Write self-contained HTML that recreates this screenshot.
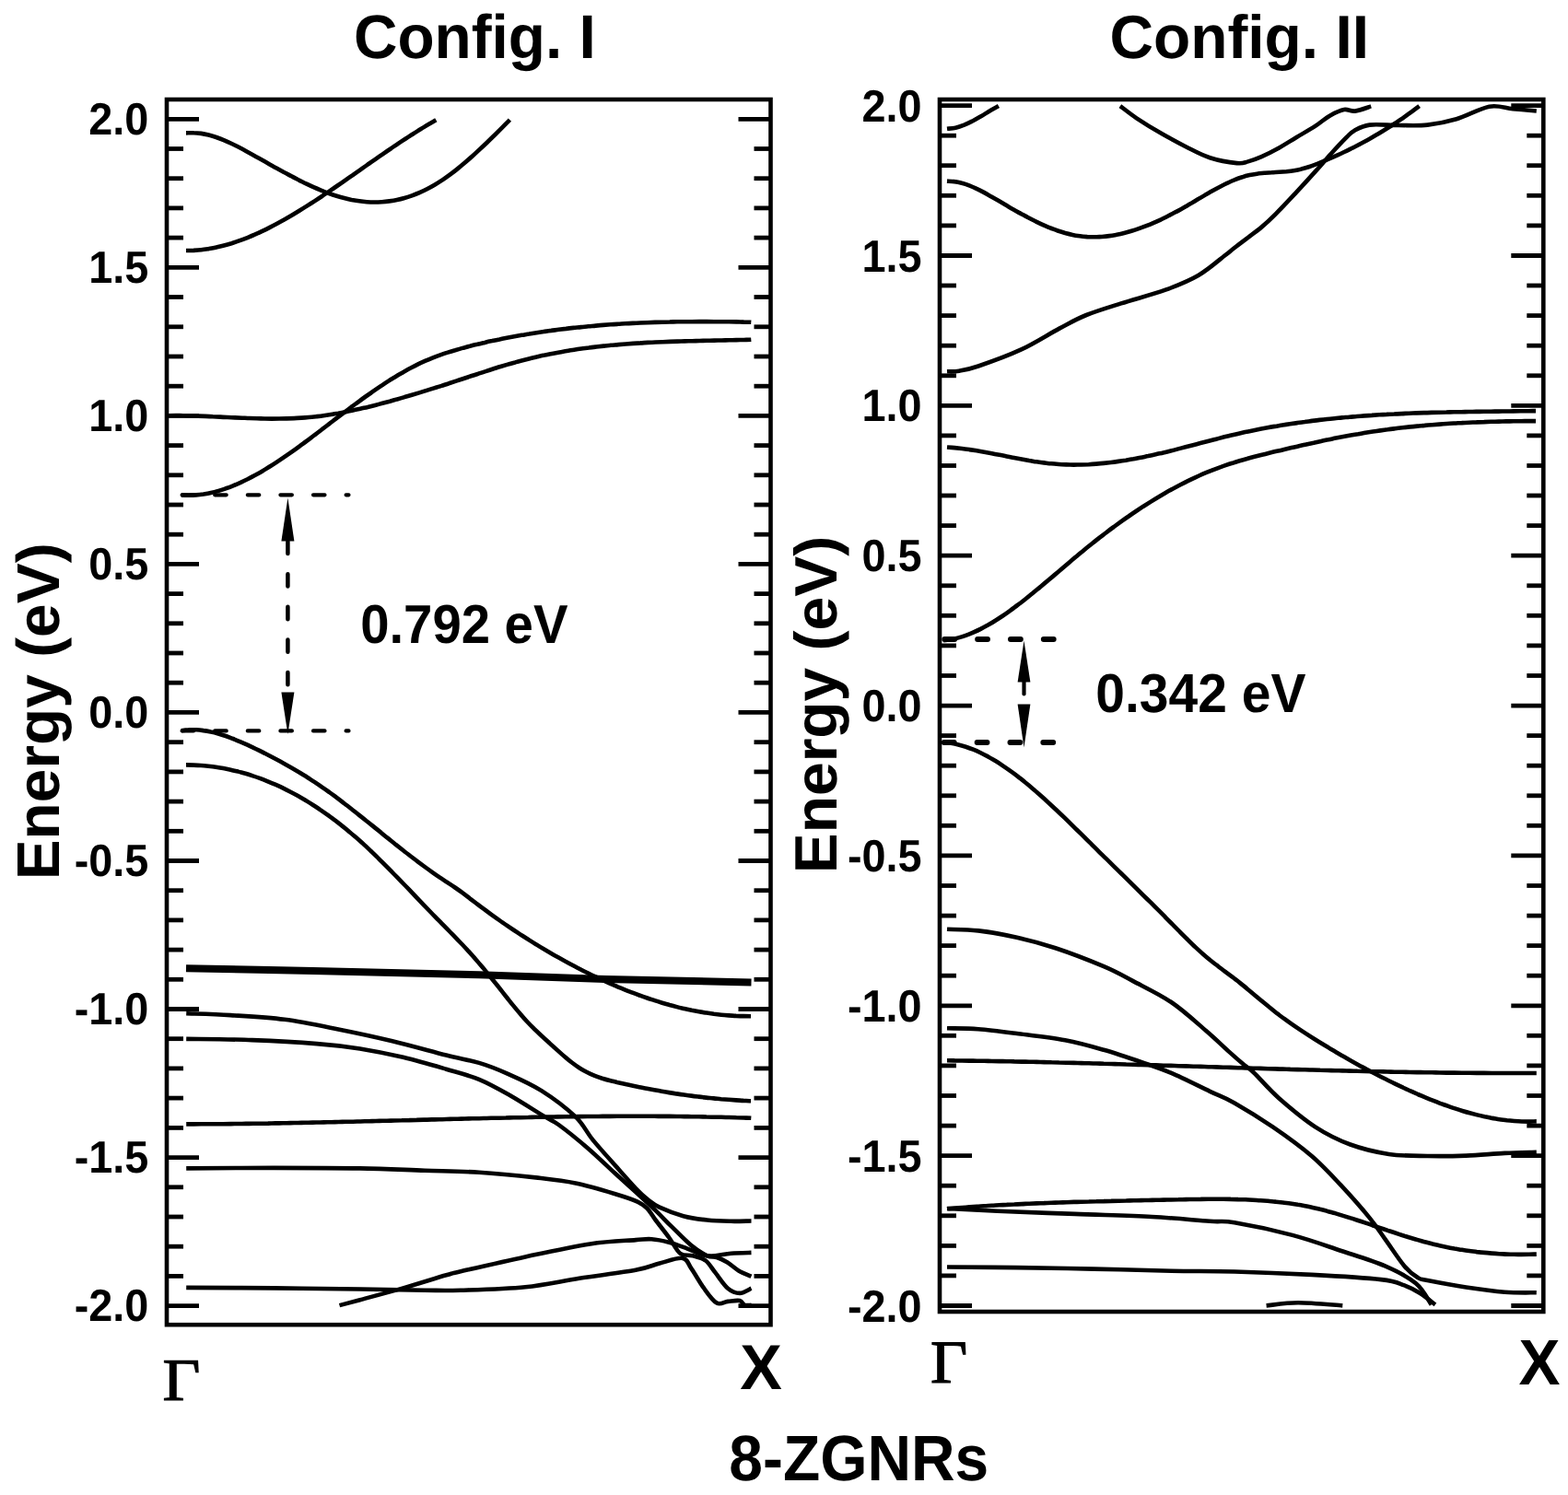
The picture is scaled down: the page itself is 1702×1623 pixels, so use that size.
<!DOCTYPE html>
<html><head><meta charset="utf-8"><title>8-ZGNRs band structure</title><style>
html,body{margin:0;padding:0;background:#fff;overflow:hidden;}
svg{display:block;}
text{fill:#000;text-rendering:geometricPrecision;}
</style></head><body>
<svg width="1702" height="1623" viewBox="0 0 1702 1623">
<rect width="1702" height="1623" fill="#fff"/>
<text transform="matrix(0.98047,0,0,1.00049,383.96,63.48)" style="font-family:'Liberation Sans',Arial,sans-serif;font-weight:bold;font-size:67px">Config. I</text>
<text transform="matrix(0.98262,0,0,0.99020,1204.41,62.97)" style="font-family:'Liberation Sans',Arial,sans-serif;font-weight:bold;font-size:67px">Config. II</text>
<text transform="matrix(0.98347,0,0,1.03965,791.32,1606.57)" style="font-family:'Liberation Sans',Arial,sans-serif;font-weight:bold;font-size:67px">8-ZGNRs</text>
<text transform="translate(64.49,955.31) rotate(-90) scale(0.98270,0.97657)" style="font-family:'Liberation Sans',Arial,sans-serif;font-weight:bold;font-size:67px">Energy (eV)</text>
<text transform="translate(908.07,948.21) rotate(-90) scale(0.98388,0.96954)" style="font-family:'Liberation Sans',Arial,sans-serif;font-weight:bold;font-size:67px">Energy (eV)</text>
<text transform="matrix(1.07013,0,0,0.98768,176.40,1520.46)" style="font-family:'Liberation Serif','Times New Roman',serif;font-weight:normal;font-size:66px" stroke="#000" stroke-width="1.2">Γ</text>
<text transform="matrix(1.04887,0,0,1.00235,1010.08,1501.14)" style="font-family:'Liberation Serif','Times New Roman',serif;font-weight:normal;font-size:66px" stroke="#000" stroke-width="1.2">Γ</text>
<text transform="matrix(1.02056,0,0,1.02862,803.23,1507.91)" style="font-family:'Liberation Sans',Arial,sans-serif;font-weight:bold;font-size:67px">X</text>
<text transform="matrix(1.00593,0,0,1.04211,1648.40,1502.65)" style="font-family:'Liberation Sans',Arial,sans-serif;font-weight:bold;font-size:67px">X</text>
<text transform="matrix(0.97023,0,0,1.02334,391.16,698.39)" style="font-family:'Liberation Sans',Arial,sans-serif;font-weight:bold;font-size:58px">0.792 eV</text>
<text transform="matrix(0.98264,0,0,1.02731,1189.23,772.55)" style="font-family:'Liberation Sans',Arial,sans-serif;font-weight:bold;font-size:58px">0.342 eV</text>

<text transform="matrix(0.97500,0,0,1.02124,161.35,145.94)" style="font-family:'Liberation Sans',Arial,sans-serif;font-weight:bold;font-size:48px;text-anchor:end">2.0</text>
<text transform="matrix(0.97500,0,0,1.02124,1000.55,131.64)" style="font-family:'Liberation Sans',Arial,sans-serif;font-weight:bold;font-size:48px;text-anchor:end">2.0</text>
<text transform="matrix(0.97500,0,0,1.02124,161.35,306.98)" style="font-family:'Liberation Sans',Arial,sans-serif;font-weight:bold;font-size:48px;text-anchor:end">1.5</text>
<text transform="matrix(0.97500,0,0,1.02124,1000.55,294.50)" style="font-family:'Liberation Sans',Arial,sans-serif;font-weight:bold;font-size:48px;text-anchor:end">1.5</text>
<text transform="matrix(0.97500,0,0,1.02124,161.35,468.01)" style="font-family:'Liberation Sans',Arial,sans-serif;font-weight:bold;font-size:48px;text-anchor:end">1.0</text>
<text transform="matrix(0.97500,0,0,1.02124,1000.55,457.36)" style="font-family:'Liberation Sans',Arial,sans-serif;font-weight:bold;font-size:48px;text-anchor:end">1.0</text>
<text transform="matrix(0.97500,0,0,1.02124,161.35,629.05)" style="font-family:'Liberation Sans',Arial,sans-serif;font-weight:bold;font-size:48px;text-anchor:end">0.5</text>
<text transform="matrix(0.97500,0,0,1.02124,1000.55,620.23)" style="font-family:'Liberation Sans',Arial,sans-serif;font-weight:bold;font-size:48px;text-anchor:end">0.5</text>
<text transform="matrix(0.97500,0,0,1.02124,161.35,790.09)" style="font-family:'Liberation Sans',Arial,sans-serif;font-weight:bold;font-size:48px;text-anchor:end">0.0</text>
<text transform="matrix(0.97500,0,0,1.02124,1000.55,783.09)" style="font-family:'Liberation Sans',Arial,sans-serif;font-weight:bold;font-size:48px;text-anchor:end">0.0</text>
<text transform="matrix(0.97500,0,0,1.02124,161.35,951.13)" style="font-family:'Liberation Sans',Arial,sans-serif;font-weight:bold;font-size:48px;text-anchor:end">-0.5</text>
<text transform="matrix(0.97500,0,0,1.02124,1000.55,945.95)" style="font-family:'Liberation Sans',Arial,sans-serif;font-weight:bold;font-size:48px;text-anchor:end">-0.5</text>
<text transform="matrix(0.97500,0,0,1.02124,161.35,1112.16)" style="font-family:'Liberation Sans',Arial,sans-serif;font-weight:bold;font-size:48px;text-anchor:end">-1.0</text>
<text transform="matrix(0.97500,0,0,1.02124,1000.55,1108.81)" style="font-family:'Liberation Sans',Arial,sans-serif;font-weight:bold;font-size:48px;text-anchor:end">-1.0</text>
<text transform="matrix(0.97500,0,0,1.02124,161.35,1273.20)" style="font-family:'Liberation Sans',Arial,sans-serif;font-weight:bold;font-size:48px;text-anchor:end">-1.5</text>
<text transform="matrix(0.97500,0,0,1.02124,1000.55,1271.68)" style="font-family:'Liberation Sans',Arial,sans-serif;font-weight:bold;font-size:48px;text-anchor:end">-1.5</text>
<text transform="matrix(0.97500,0,0,1.02124,161.35,1434.24)" style="font-family:'Liberation Sans',Arial,sans-serif;font-weight:bold;font-size:48px;text-anchor:end">-2.0</text>
<text transform="matrix(0.97500,0,0,1.02124,1000.55,1434.54)" style="font-family:'Liberation Sans',Arial,sans-serif;font-weight:bold;font-size:48px;text-anchor:end">-2.0</text>

<g fill="none" stroke="#000" stroke-width="4.6">
<rect x="181" y="108" width="655.5" height="1330.2"/>
<rect x="1020" y="108" width="655.3" height="1316"/>
</g>
<g stroke="#000" stroke-width="4.8">
<line x1="181" y1="129.3" x2="216" y2="129.3"/>
<line x1="181" y1="161.5" x2="199" y2="161.5"/>
<line x1="181" y1="193.7" x2="199" y2="193.7"/>
<line x1="181" y1="225.9" x2="199" y2="225.9"/>
<line x1="181" y1="258.1" x2="199" y2="258.1"/>
<line x1="181" y1="290.3" x2="216" y2="290.3"/>
<line x1="181" y1="322.5" x2="199" y2="322.5"/>
<line x1="181" y1="354.8" x2="199" y2="354.8"/>
<line x1="181" y1="387.0" x2="199" y2="387.0"/>
<line x1="181" y1="419.2" x2="199" y2="419.2"/>
<line x1="181" y1="451.4" x2="216" y2="451.4"/>
<line x1="181" y1="483.6" x2="199" y2="483.6"/>
<line x1="181" y1="515.8" x2="199" y2="515.8"/>
<line x1="181" y1="548.0" x2="199" y2="548.0"/>
<line x1="181" y1="580.2" x2="199" y2="580.2"/>
<line x1="181" y1="612.4" x2="216" y2="612.4"/>
<line x1="181" y1="644.6" x2="199" y2="644.6"/>
<line x1="181" y1="676.8" x2="199" y2="676.8"/>
<line x1="181" y1="709.0" x2="199" y2="709.0"/>
<line x1="181" y1="741.2" x2="199" y2="741.2"/>
<line x1="181" y1="773.4" x2="216" y2="773.4"/>
<line x1="181" y1="805.7" x2="199" y2="805.7"/>
<line x1="181" y1="837.9" x2="199" y2="837.9"/>
<line x1="181" y1="870.1" x2="199" y2="870.1"/>
<line x1="181" y1="902.3" x2="199" y2="902.3"/>
<line x1="181" y1="934.5" x2="216" y2="934.5"/>
<line x1="181" y1="966.7" x2="199" y2="966.7"/>
<line x1="181" y1="998.9" x2="199" y2="998.9"/>
<line x1="181" y1="1031.1" x2="199" y2="1031.1"/>
<line x1="181" y1="1063.3" x2="199" y2="1063.3"/>
<line x1="181" y1="1095.5" x2="216" y2="1095.5"/>
<line x1="181" y1="1127.7" x2="199" y2="1127.7"/>
<line x1="181" y1="1159.9" x2="199" y2="1159.9"/>
<line x1="181" y1="1192.1" x2="199" y2="1192.1"/>
<line x1="181" y1="1224.4" x2="199" y2="1224.4"/>
<line x1="181" y1="1256.6" x2="216" y2="1256.6"/>
<line x1="181" y1="1288.8" x2="199" y2="1288.8"/>
<line x1="181" y1="1321.0" x2="199" y2="1321.0"/>
<line x1="181" y1="1353.2" x2="199" y2="1353.2"/>
<line x1="181" y1="1385.4" x2="199" y2="1385.4"/>
<line x1="181" y1="1417.6" x2="216" y2="1417.6"/>
<line x1="836.5" y1="129.3" x2="801.5" y2="129.3"/>
<line x1="836.5" y1="161.5" x2="818.5" y2="161.5"/>
<line x1="836.5" y1="193.7" x2="818.5" y2="193.7"/>
<line x1="836.5" y1="225.9" x2="818.5" y2="225.9"/>
<line x1="836.5" y1="258.1" x2="818.5" y2="258.1"/>
<line x1="836.5" y1="290.3" x2="801.5" y2="290.3"/>
<line x1="836.5" y1="322.5" x2="818.5" y2="322.5"/>
<line x1="836.5" y1="354.8" x2="818.5" y2="354.8"/>
<line x1="836.5" y1="387.0" x2="818.5" y2="387.0"/>
<line x1="836.5" y1="419.2" x2="818.5" y2="419.2"/>
<line x1="836.5" y1="451.4" x2="801.5" y2="451.4"/>
<line x1="836.5" y1="483.6" x2="818.5" y2="483.6"/>
<line x1="836.5" y1="515.8" x2="818.5" y2="515.8"/>
<line x1="836.5" y1="548.0" x2="818.5" y2="548.0"/>
<line x1="836.5" y1="580.2" x2="818.5" y2="580.2"/>
<line x1="836.5" y1="612.4" x2="801.5" y2="612.4"/>
<line x1="836.5" y1="644.6" x2="818.5" y2="644.6"/>
<line x1="836.5" y1="676.8" x2="818.5" y2="676.8"/>
<line x1="836.5" y1="709.0" x2="818.5" y2="709.0"/>
<line x1="836.5" y1="741.2" x2="818.5" y2="741.2"/>
<line x1="836.5" y1="773.4" x2="801.5" y2="773.4"/>
<line x1="836.5" y1="805.7" x2="818.5" y2="805.7"/>
<line x1="836.5" y1="837.9" x2="818.5" y2="837.9"/>
<line x1="836.5" y1="870.1" x2="818.5" y2="870.1"/>
<line x1="836.5" y1="902.3" x2="818.5" y2="902.3"/>
<line x1="836.5" y1="934.5" x2="801.5" y2="934.5"/>
<line x1="836.5" y1="966.7" x2="818.5" y2="966.7"/>
<line x1="836.5" y1="998.9" x2="818.5" y2="998.9"/>
<line x1="836.5" y1="1031.1" x2="818.5" y2="1031.1"/>
<line x1="836.5" y1="1063.3" x2="818.5" y2="1063.3"/>
<line x1="836.5" y1="1095.5" x2="801.5" y2="1095.5"/>
<line x1="836.5" y1="1127.7" x2="818.5" y2="1127.7"/>
<line x1="836.5" y1="1159.9" x2="818.5" y2="1159.9"/>
<line x1="836.5" y1="1192.1" x2="818.5" y2="1192.1"/>
<line x1="836.5" y1="1224.4" x2="818.5" y2="1224.4"/>
<line x1="836.5" y1="1256.6" x2="801.5" y2="1256.6"/>
<line x1="836.5" y1="1288.8" x2="818.5" y2="1288.8"/>
<line x1="836.5" y1="1321.0" x2="818.5" y2="1321.0"/>
<line x1="836.5" y1="1353.2" x2="818.5" y2="1353.2"/>
<line x1="836.5" y1="1385.4" x2="818.5" y2="1385.4"/>
<line x1="836.5" y1="1417.6" x2="801.5" y2="1417.6"/>
<line x1="1020" y1="114.6" x2="1055" y2="114.6"/>
<line x1="1020" y1="147.2" x2="1038" y2="147.2"/>
<line x1="1020" y1="179.7" x2="1038" y2="179.7"/>
<line x1="1020" y1="212.3" x2="1038" y2="212.3"/>
<line x1="1020" y1="244.9" x2="1038" y2="244.9"/>
<line x1="1020" y1="277.5" x2="1055" y2="277.5"/>
<line x1="1020" y1="310.0" x2="1038" y2="310.0"/>
<line x1="1020" y1="342.6" x2="1038" y2="342.6"/>
<line x1="1020" y1="375.2" x2="1038" y2="375.2"/>
<line x1="1020" y1="407.8" x2="1038" y2="407.8"/>
<line x1="1020" y1="440.3" x2="1055" y2="440.3"/>
<line x1="1020" y1="472.9" x2="1038" y2="472.9"/>
<line x1="1020" y1="505.5" x2="1038" y2="505.5"/>
<line x1="1020" y1="538.0" x2="1038" y2="538.0"/>
<line x1="1020" y1="570.6" x2="1038" y2="570.6"/>
<line x1="1020" y1="603.2" x2="1055" y2="603.2"/>
<line x1="1020" y1="635.8" x2="1038" y2="635.8"/>
<line x1="1020" y1="668.3" x2="1038" y2="668.3"/>
<line x1="1020" y1="700.9" x2="1038" y2="700.9"/>
<line x1="1020" y1="733.5" x2="1038" y2="733.5"/>
<line x1="1020" y1="766.1" x2="1055" y2="766.1"/>
<line x1="1020" y1="798.6" x2="1038" y2="798.6"/>
<line x1="1020" y1="831.2" x2="1038" y2="831.2"/>
<line x1="1020" y1="863.8" x2="1038" y2="863.8"/>
<line x1="1020" y1="896.3" x2="1038" y2="896.3"/>
<line x1="1020" y1="928.9" x2="1055" y2="928.9"/>
<line x1="1020" y1="961.5" x2="1038" y2="961.5"/>
<line x1="1020" y1="994.1" x2="1038" y2="994.1"/>
<line x1="1020" y1="1026.6" x2="1038" y2="1026.6"/>
<line x1="1020" y1="1059.2" x2="1038" y2="1059.2"/>
<line x1="1020" y1="1091.8" x2="1055" y2="1091.8"/>
<line x1="1020" y1="1124.3" x2="1038" y2="1124.3"/>
<line x1="1020" y1="1156.9" x2="1038" y2="1156.9"/>
<line x1="1020" y1="1189.5" x2="1038" y2="1189.5"/>
<line x1="1020" y1="1222.1" x2="1038" y2="1222.1"/>
<line x1="1020" y1="1254.6" x2="1055" y2="1254.6"/>
<line x1="1020" y1="1287.2" x2="1038" y2="1287.2"/>
<line x1="1020" y1="1319.8" x2="1038" y2="1319.8"/>
<line x1="1020" y1="1352.4" x2="1038" y2="1352.4"/>
<line x1="1020" y1="1384.9" x2="1038" y2="1384.9"/>
<line x1="1020" y1="1417.5" x2="1055" y2="1417.5"/>
<line x1="1675.3" y1="114.6" x2="1640.3" y2="114.6"/>
<line x1="1675.3" y1="147.2" x2="1657.3" y2="147.2"/>
<line x1="1675.3" y1="179.7" x2="1657.3" y2="179.7"/>
<line x1="1675.3" y1="212.3" x2="1657.3" y2="212.3"/>
<line x1="1675.3" y1="244.9" x2="1657.3" y2="244.9"/>
<line x1="1675.3" y1="277.5" x2="1640.3" y2="277.5"/>
<line x1="1675.3" y1="310.0" x2="1657.3" y2="310.0"/>
<line x1="1675.3" y1="342.6" x2="1657.3" y2="342.6"/>
<line x1="1675.3" y1="375.2" x2="1657.3" y2="375.2"/>
<line x1="1675.3" y1="407.8" x2="1657.3" y2="407.8"/>
<line x1="1675.3" y1="440.3" x2="1640.3" y2="440.3"/>
<line x1="1675.3" y1="472.9" x2="1657.3" y2="472.9"/>
<line x1="1675.3" y1="505.5" x2="1657.3" y2="505.5"/>
<line x1="1675.3" y1="538.0" x2="1657.3" y2="538.0"/>
<line x1="1675.3" y1="570.6" x2="1657.3" y2="570.6"/>
<line x1="1675.3" y1="603.2" x2="1640.3" y2="603.2"/>
<line x1="1675.3" y1="635.8" x2="1657.3" y2="635.8"/>
<line x1="1675.3" y1="668.3" x2="1657.3" y2="668.3"/>
<line x1="1675.3" y1="700.9" x2="1657.3" y2="700.9"/>
<line x1="1675.3" y1="733.5" x2="1657.3" y2="733.5"/>
<line x1="1675.3" y1="766.1" x2="1640.3" y2="766.1"/>
<line x1="1675.3" y1="798.6" x2="1657.3" y2="798.6"/>
<line x1="1675.3" y1="831.2" x2="1657.3" y2="831.2"/>
<line x1="1675.3" y1="863.8" x2="1657.3" y2="863.8"/>
<line x1="1675.3" y1="896.3" x2="1657.3" y2="896.3"/>
<line x1="1675.3" y1="928.9" x2="1640.3" y2="928.9"/>
<line x1="1675.3" y1="961.5" x2="1657.3" y2="961.5"/>
<line x1="1675.3" y1="994.1" x2="1657.3" y2="994.1"/>
<line x1="1675.3" y1="1026.6" x2="1657.3" y2="1026.6"/>
<line x1="1675.3" y1="1059.2" x2="1657.3" y2="1059.2"/>
<line x1="1675.3" y1="1091.8" x2="1640.3" y2="1091.8"/>
<line x1="1675.3" y1="1124.3" x2="1657.3" y2="1124.3"/>
<line x1="1675.3" y1="1156.9" x2="1657.3" y2="1156.9"/>
<line x1="1675.3" y1="1189.5" x2="1657.3" y2="1189.5"/>
<line x1="1675.3" y1="1222.1" x2="1657.3" y2="1222.1"/>
<line x1="1675.3" y1="1254.6" x2="1640.3" y2="1254.6"/>
<line x1="1675.3" y1="1287.2" x2="1657.3" y2="1287.2"/>
<line x1="1675.3" y1="1319.8" x2="1657.3" y2="1319.8"/>
<line x1="1675.3" y1="1352.4" x2="1657.3" y2="1352.4"/>
<line x1="1675.3" y1="1384.9" x2="1657.3" y2="1384.9"/>
<line x1="1675.3" y1="1417.5" x2="1640.3" y2="1417.5"/>
</g>
<g fill="none" stroke="#000" stroke-linejoin="round">
<path d="M202.0,144.4 C203.4,144.4 207.4,144.1 210.2,144.2 C212.9,144.2 215.6,144.5 218.3,144.9 C221.1,145.3 223.8,145.9 226.5,146.6 C229.2,147.3 232.0,148.1 234.7,149.0 C237.4,150.0 240.1,151.0 242.9,152.1 C245.6,153.3 248.3,154.5 251.0,155.8 C253.8,157.1 256.5,158.4 259.2,159.8 C261.9,161.2 264.7,162.7 267.4,164.2 C270.1,165.7 272.8,167.2 275.5,168.7 C278.3,170.2 281.0,171.8 283.7,173.3 C286.4,174.8 289.2,176.4 291.9,177.9 C294.6,179.4 297.3,181.0 300.1,182.5 C302.8,184.0 305.5,185.5 308.2,187.0 C311.0,188.4 313.7,189.9 316.4,191.3 C319.1,192.8 321.9,194.2 324.6,195.6 C327.3,196.9 330.0,198.3 332.8,199.6 C335.5,200.9 338.2,202.2 340.9,203.4 C343.6,204.6 346.4,205.7 349.1,206.8 C351.8,207.9 354.5,209.0 357.3,210.0 C360.0,211.0 362.7,211.9 365.4,212.7 C368.2,213.6 370.9,214.4 373.6,215.1 C376.3,215.8 379.1,216.4 381.8,217.0 C384.5,217.5 387.2,218.0 390.0,218.3 C392.7,218.7 395.4,219.0 398.1,219.2 C400.9,219.4 403.6,219.5 406.3,219.5 C409.0,219.5 411.8,219.4 414.5,219.2 C417.2,219.1 419.9,218.8 422.6,218.4 C425.4,218.0 428.1,217.6 430.8,217.0 C433.5,216.5 436.3,215.8 439.0,215.0 C441.7,214.3 444.4,213.4 447.2,212.4 C449.9,211.4 452.6,210.4 455.3,209.2 C458.1,208.0 460.8,206.7 463.5,205.3 C466.2,203.9 469.0,202.4 471.7,200.8 C474.4,199.2 477.1,197.4 479.9,195.6 C482.6,193.8 485.3,191.9 488.0,189.9 C490.7,187.9 493.5,185.8 496.2,183.6 C498.9,181.4 501.6,179.2 504.4,176.8 C507.1,174.5 509.8,172.1 512.5,169.7 C515.3,167.3 518.0,164.8 520.7,162.2 C523.4,159.7 526.2,157.1 528.9,154.5 C531.6,151.8 534.3,149.2 537.1,146.5 C539.8,143.8 542.5,141.1 545.2,138.4 C548.0,135.6 552.0,131.5 553.4,130.1" stroke-width="4.6"/>
<path d="M202.0,272.0 C203.4,272.0 207.5,272.0 210.2,271.9 C213.0,271.7 215.7,271.5 218.4,271.2 C221.2,270.9 223.9,270.5 226.7,270.1 C229.4,269.6 232.1,269.1 234.9,268.5 C237.6,267.9 240.4,267.3 243.1,266.5 C245.8,265.8 248.6,265.0 251.3,264.2 C254.1,263.3 256.8,262.4 259.5,261.4 C262.3,260.4 265.0,259.4 267.8,258.3 C270.5,257.2 273.3,256.1 276.0,254.9 C278.7,253.7 281.5,252.4 284.2,251.1 C287.0,249.8 289.7,248.5 292.4,247.1 C295.2,245.7 297.9,244.3 300.7,242.8 C303.4,241.3 306.1,239.8 308.9,238.2 C311.6,236.7 314.4,235.1 317.1,233.5 C319.8,231.9 322.6,230.2 325.3,228.5 C328.1,226.8 330.8,225.1 333.5,223.4 C336.3,221.6 339.0,219.9 341.8,218.1 C344.5,216.3 347.2,214.5 350.0,212.7 C352.7,210.8 355.5,209.0 358.2,207.1 C360.9,205.3 363.7,203.4 366.4,201.5 C369.2,199.6 371.9,197.7 374.6,195.8 C377.4,193.9 380.1,192.0 382.9,190.1 C385.6,188.1 388.3,186.2 391.1,184.3 C393.8,182.4 396.6,180.5 399.3,178.5 C402.0,176.6 404.8,174.7 407.5,172.8 C410.3,170.9 413.0,169.0 415.8,167.1 C418.5,165.2 421.2,163.3 424.0,161.5 C426.7,159.6 429.5,157.8 432.2,155.9 C434.9,154.1 437.7,152.3 440.4,150.5 C443.2,148.7 445.9,146.9 448.6,145.2 C451.4,143.5 454.1,141.7 456.9,140.0 C459.6,138.4 462.3,136.7 465.1,135.1 C467.8,133.5 471.9,131.1 473.3,130.3" stroke-width="4.6"/>
<path d="M183.0,451.2 C184.3,451.1 188.3,451.1 191.0,451.1 C193.7,451.1 196.3,451.2 199.0,451.2 C201.7,451.2 204.3,451.3 207.0,451.4 C209.7,451.4 212.3,451.5 215.0,451.6 C217.7,451.7 220.4,451.8 223.0,451.9 C225.7,452.0 228.4,452.1 231.0,452.3 C233.7,452.4 236.4,452.5 239.0,452.6 C241.7,452.8 244.4,452.9 247.0,453.0 C249.7,453.1 252.4,453.3 255.0,453.4 C257.7,453.5 260.4,453.6 263.0,453.7 C265.7,453.8 268.4,454.0 271.0,454.0 C273.7,454.1 276.4,454.2 279.0,454.3 C281.7,454.4 284.4,454.4 287.0,454.5 C289.7,454.5 292.4,454.5 295.1,454.6 C297.7,454.6 300.4,454.6 303.1,454.5 C305.7,454.5 308.4,454.5 311.1,454.4 C313.7,454.3 316.4,454.2 319.1,454.1 C321.7,454.0 324.4,453.8 327.1,453.6 C329.7,453.5 332.4,453.3 335.1,453.0 C337.7,452.8 340.4,452.5 343.1,452.2 C345.7,451.9 348.4,451.6 351.1,451.2 C353.7,450.8 356.4,450.4 359.1,450.0 C361.8,449.6 364.4,449.1 367.1,448.7 C369.8,448.2 372.4,447.7 375.1,447.2 C377.8,446.7 380.4,446.1 383.1,445.5 C385.8,445.0 388.4,444.4 391.1,443.8 C393.8,443.2 396.4,442.5 399.1,441.9 C401.8,441.2 404.4,440.6 407.1,439.9 C409.8,439.2 412.4,438.5 415.1,437.8 C417.8,437.1 420.4,436.4 423.1,435.7 C425.8,434.9 428.4,434.2 431.1,433.4 C433.8,432.7 436.5,431.9 439.1,431.1 C441.8,430.4 444.5,429.6 447.1,428.8 C449.8,428.0 452.5,427.2 455.1,426.4 C457.8,425.6 460.5,424.8 463.1,423.9 C465.8,423.1 468.5,422.3 471.1,421.4 C473.8,420.6 476.5,419.7 479.1,418.9 C481.8,418.0 484.5,417.2 487.1,416.3 C489.8,415.4 492.5,414.5 495.1,413.6 C497.8,412.8 500.5,411.9 503.2,411.0 C505.8,410.1 508.5,409.2 511.2,408.3 C513.8,407.4 516.5,406.5 519.2,405.7 C521.8,404.8 524.5,403.9 527.2,403.1 C529.8,402.2 532.5,401.3 535.2,400.5 C537.8,399.7 540.5,398.8 543.2,398.0 C545.8,397.2 548.5,396.4 551.2,395.6 C553.8,394.9 556.5,394.1 559.2,393.4 C561.8,392.6 564.5,391.9 567.2,391.2 C569.9,390.5 572.5,389.9 575.2,389.2 C577.9,388.6 580.5,387.9 583.2,387.3 C585.9,386.7 588.5,386.1 591.2,385.6 C593.9,385.0 596.5,384.5 599.2,383.9 C601.9,383.4 604.5,382.9 607.2,382.4 C609.9,381.9 612.5,381.5 615.2,381.0 C617.9,380.6 620.5,380.1 623.2,379.7 C625.9,379.3 628.5,378.9 631.2,378.5 C633.9,378.2 636.5,377.8 639.2,377.5 C641.9,377.1 644.6,376.8 647.2,376.5 C649.9,376.2 652.6,375.9 655.2,375.6 C657.9,375.3 660.6,375.1 663.2,374.8 C665.9,374.6 668.6,374.3 671.2,374.1 C673.9,373.9 676.6,373.7 679.2,373.5 C681.9,373.3 684.6,373.1 687.2,372.9 C689.9,372.7 692.6,372.5 695.2,372.4 C697.9,372.2 700.6,372.1 703.2,371.9 C705.9,371.8 708.6,371.7 711.3,371.5 C713.9,371.4 716.6,371.3 719.3,371.2 C721.9,371.1 724.6,371.0 727.3,370.9 C729.9,370.8 732.6,370.7 735.3,370.6 C737.9,370.5 740.6,370.5 743.3,370.4 C745.9,370.3 748.6,370.3 751.3,370.2 C753.9,370.1 756.6,370.1 759.3,370.0 C761.9,369.9 764.6,369.9 767.3,369.8 C769.9,369.8 772.6,369.7 775.3,369.6 C777.9,369.6 780.6,369.5 783.3,369.5 C786.0,369.4 788.6,369.4 791.3,369.3 C794.0,369.3 796.6,369.2 799.3,369.1 C802.0,369.1 804.6,369.0 807.3,369.0 C810.0,368.9 814.0,368.8 815.3,368.7" stroke-width="4.6"/>
<path d="M196.8,537.4 C198.1,537.5 202.2,537.7 204.8,537.7 C207.5,537.7 210.2,537.6 212.9,537.4 C215.5,537.2 218.2,536.9 220.9,536.5 C223.6,536.0 226.3,535.5 228.9,534.9 C231.6,534.4 234.3,533.7 237.0,532.9 C239.6,532.1 242.3,531.3 245.0,530.3 C247.7,529.4 250.3,528.4 253.0,527.3 C255.7,526.2 258.4,525.1 261.1,523.9 C263.7,522.6 266.4,521.3 269.1,520.0 C271.8,518.6 274.4,517.2 277.1,515.8 C279.8,514.3 282.5,512.8 285.2,511.2 C287.8,509.6 290.5,508.0 293.2,506.3 C295.9,504.6 298.5,502.9 301.2,501.1 C303.9,499.4 306.6,497.6 309.3,495.7 C311.9,493.9 314.6,492.0 317.3,490.1 C320.0,488.2 322.6,486.3 325.3,484.3 C328.0,482.4 330.7,480.4 333.4,478.4 C336.0,476.4 338.7,474.4 341.4,472.3 C344.1,470.3 346.7,468.3 349.4,466.2 C352.1,464.2 354.8,462.1 357.4,460.1 C360.1,458.0 362.8,456.0 365.5,453.9 C368.2,451.9 370.8,449.8 373.5,447.8 C376.2,445.8 378.9,443.8 381.5,441.7 C384.2,439.7 386.9,437.8 389.6,435.8 C392.3,433.8 394.9,431.9 397.6,430.0 C400.3,428.1 403.0,426.2 405.6,424.3 C408.3,422.5 411.0,420.7 413.7,418.9 C416.4,417.1 419.0,415.3 421.7,413.6 C424.4,411.9 427.1,410.3 429.7,408.7 C432.4,407.0 435.1,405.5 437.8,403.9 C440.5,402.4 443.1,400.9 445.8,399.5 C448.5,398.1 451.2,396.7 453.8,395.4 C456.5,394.1 459.2,392.9 461.9,391.7 C464.5,390.5 467.2,389.4 469.9,388.3 C472.6,387.2 475.3,386.2 477.9,385.3 C480.6,384.3 483.3,383.4 486.0,382.6 C488.6,381.7 491.3,380.9 494.0,380.2 C496.7,379.4 499.4,378.6 502.0,377.9 C504.7,377.2 507.4,376.4 510.1,375.8 C512.7,375.1 515.4,374.4 518.1,373.8 C520.8,373.1 523.5,372.5 526.1,371.9 C528.8,371.2 531.5,370.6 534.2,370.1 C536.8,369.5 539.5,368.9 542.2,368.4 C544.9,367.8 547.6,367.3 550.2,366.8 C552.9,366.3 555.6,365.8 558.3,365.3 C560.9,364.8 563.6,364.3 566.3,363.8 C569.0,363.4 571.6,362.9 574.3,362.5 C577.0,362.0 579.7,361.6 582.4,361.2 C585.0,360.8 587.7,360.4 590.4,360.0 C593.1,359.6 595.7,359.2 598.4,358.9 C601.1,358.5 603.8,358.2 606.5,357.8 C609.1,357.5 611.8,357.2 614.5,356.9 C617.2,356.5 619.8,356.2 622.5,355.9 C625.2,355.6 627.9,355.4 630.6,355.1 C633.2,354.8 635.9,354.6 638.6,354.3 C641.3,354.1 643.9,353.8 646.6,353.6 C649.3,353.4 652.0,353.2 654.7,352.9 C657.3,352.7 660.0,352.5 662.7,352.3 C665.4,352.2 668.0,352.0 670.7,351.8 C673.4,351.6 676.1,351.5 678.7,351.3 C681.4,351.2 684.1,351.0 686.8,350.9 C689.5,350.8 692.1,350.6 694.8,350.5 C697.5,350.4 700.2,350.3 702.8,350.2 C705.5,350.1 708.2,350.0 710.9,349.9 C713.6,349.8 716.2,349.7 718.9,349.7 C721.6,349.6 724.3,349.5 726.9,349.5 C729.6,349.4 732.3,349.4 735.0,349.3 C737.7,349.3 740.3,349.3 743.0,349.2 C745.7,349.2 748.4,349.2 751.0,349.2 C753.7,349.1 756.4,349.1 759.1,349.1 C761.8,349.1 764.4,349.1 767.1,349.1 C769.8,349.1 772.5,349.1 775.1,349.2 C777.8,349.2 780.5,349.2 783.2,349.2 C785.8,349.3 788.5,349.3 791.2,349.3 C793.9,349.4 796.6,349.4 799.2,349.4 C801.9,349.5 804.6,349.5 807.3,349.6 C809.9,349.6 814.0,349.7 815.3,349.8" stroke-width="4.6"/>
<path d="M196.8,793.3 C198.1,793.1 202.2,792.5 204.8,792.4 C207.5,792.2 210.2,792.2 212.9,792.3 C215.5,792.4 218.2,792.7 220.9,793.1 C223.6,793.4 226.2,793.9 228.9,794.5 C231.6,795.0 234.3,795.7 236.9,796.5 C239.6,797.3 242.3,798.1 245.0,799.0 C247.6,799.9 250.3,801.0 253.0,802.0 C255.7,803.1 258.4,804.2 261.0,805.3 C263.7,806.5 266.4,807.7 269.1,808.9 C271.7,810.2 274.4,811.4 277.1,812.7 C279.8,814.0 282.4,815.3 285.1,816.6 C287.8,818.0 290.5,819.3 293.1,820.7 C295.8,822.1 298.5,823.5 301.2,825.0 C303.8,826.4 306.5,827.9 309.2,829.4 C311.9,830.9 314.6,832.4 317.2,833.9 C319.9,835.5 322.6,837.1 325.3,838.7 C327.9,840.4 330.6,842.0 333.3,843.7 C336.0,845.4 338.6,847.2 341.3,848.9 C344.0,850.7 346.7,852.5 349.3,854.4 C352.0,856.2 354.7,858.1 357.4,860.0 C360.0,862.0 362.7,863.9 365.4,865.9 C368.1,867.9 370.8,870.0 373.4,872.0 C376.1,874.0 378.8,876.1 381.5,878.2 C384.1,880.3 386.8,882.4 389.5,884.6 C392.2,886.7 394.8,888.8 397.5,891.0 C400.2,893.1 402.9,895.3 405.5,897.4 C408.2,899.6 410.9,901.8 413.6,903.9 C416.2,906.1 418.9,908.3 421.6,910.4 C424.3,912.6 427.0,914.7 429.6,916.9 C432.3,919.0 435.0,921.1 437.7,923.2 C440.3,925.3 443.0,927.4 445.7,929.5 C448.4,931.5 451.0,933.6 453.7,935.6 C456.4,937.6 459.1,939.6 461.7,941.5 C464.4,943.5 467.1,945.4 469.8,947.3 C472.4,949.2 475.1,951.0 477.8,952.8 C480.5,954.6 483.2,956.3 485.8,958.1 C488.5,959.9 491.2,961.6 493.9,963.5 C496.5,965.3 499.2,967.2 501.9,969.2 C504.6,971.1 507.2,973.2 509.9,975.3 C512.6,977.3 515.3,979.4 517.9,981.4 C520.6,983.5 523.3,985.5 526.0,987.4 C528.6,989.4 531.3,991.4 534.0,993.3 C536.7,995.2 539.4,997.1 542.0,999.0 C544.7,1000.9 547.4,1002.7 550.1,1004.6 C552.7,1006.4 555.4,1008.2 558.1,1010.0 C560.8,1011.8 563.4,1013.5 566.1,1015.3 C568.8,1017.0 571.5,1018.7 574.1,1020.4 C576.8,1022.1 579.5,1023.8 582.2,1025.4 C584.8,1027.1 587.5,1028.7 590.2,1030.3 C592.9,1031.9 595.6,1033.5 598.2,1035.0 C600.9,1036.6 603.6,1038.1 606.3,1039.6 C608.9,1041.1 611.6,1042.6 614.3,1044.0 C617.0,1045.5 619.6,1046.9 622.3,1048.3 C625.0,1049.8 627.7,1051.1 630.3,1052.5 C633.0,1053.9 635.7,1055.2 638.4,1056.5 C641.0,1057.9 643.7,1059.2 646.4,1060.4 C649.1,1061.7 651.8,1063.0 654.4,1064.2 C657.1,1065.4 659.8,1066.6 662.5,1067.8 C665.1,1069.0 667.8,1070.1 670.5,1071.3 C673.2,1072.4 675.8,1073.5 678.5,1074.6 C681.2,1075.7 683.9,1076.7 686.5,1077.7 C689.2,1078.8 691.9,1079.8 694.6,1080.7 C697.2,1081.7 699.9,1082.6 702.6,1083.5 C705.3,1084.5 708.0,1085.3 710.6,1086.2 C713.3,1087.1 716.0,1087.9 718.7,1088.7 C721.3,1089.5 724.0,1090.2 726.7,1091.0 C729.4,1091.7 732.0,1092.4 734.7,1093.1 C737.4,1093.8 740.1,1094.4 742.7,1095.0 C745.4,1095.6 748.1,1096.2 750.8,1096.8 C753.4,1097.3 756.1,1097.8 758.8,1098.3 C761.5,1098.8 764.2,1099.2 766.8,1099.6 C769.5,1100.0 772.2,1100.4 774.9,1100.8 C777.5,1101.1 780.2,1101.4 782.9,1101.7 C785.6,1102.0 788.2,1102.2 790.9,1102.4 C793.6,1102.6 796.3,1102.7 798.9,1102.9 C801.6,1103.0 804.3,1103.1 807.0,1103.1 C809.6,1103.2 813.7,1103.2 815.0,1103.2" stroke-width="4.6"/>
<path d="M202.0,830.4 C203.3,830.4 207.4,830.5 210.1,830.6 C212.8,830.7 215.4,830.8 218.1,831.0 C220.8,831.2 223.5,831.5 226.2,831.8 C228.9,832.1 231.6,832.4 234.3,832.8 C237.0,833.2 239.6,833.6 242.3,834.1 C245.0,834.6 247.7,835.1 250.4,835.7 C253.1,836.3 255.8,837.0 258.5,837.6 C261.1,838.3 263.8,839.1 266.5,839.8 C269.2,840.6 271.9,841.5 274.6,842.4 C277.3,843.2 280.0,844.2 282.7,845.2 C285.3,846.1 288.0,847.2 290.7,848.3 C293.4,849.4 296.1,850.5 298.8,851.7 C301.5,852.9 304.2,854.1 306.9,855.4 C309.5,856.7 312.2,858.1 314.9,859.5 C317.6,860.9 320.3,862.3 323.0,863.8 C325.7,865.3 328.4,866.9 331.1,868.5 C333.7,870.1 336.4,871.7 339.1,873.5 C341.8,875.2 344.5,876.9 347.2,878.8 C349.9,880.6 352.6,882.5 355.2,884.4 C357.9,886.3 360.6,888.3 363.3,890.3 C366.0,892.4 368.7,894.4 371.4,896.6 C374.1,898.7 376.8,900.9 379.4,903.2 C382.1,905.4 384.8,907.8 387.5,910.1 C390.2,912.5 392.9,914.9 395.6,917.4 C398.3,919.8 401.0,922.4 403.6,924.9 C406.3,927.5 409.0,930.1 411.7,932.8 C414.4,935.4 417.1,938.1 419.8,940.8 C422.5,943.5 425.2,946.2 427.8,949.0 C430.5,951.8 433.2,954.5 435.9,957.3 C438.6,960.1 441.3,962.9 444.0,965.7 C446.7,968.6 449.4,971.4 452.0,974.2 C454.7,977.0 457.4,979.8 460.1,982.6 C462.8,985.4 465.5,988.2 468.2,991.0 C470.9,993.7 473.5,996.5 476.2,999.2 C478.9,1002.0 481.6,1004.7 484.3,1007.4 C487.0,1010.1 489.7,1012.9 492.4,1015.6 C495.1,1018.4 497.7,1021.2 500.4,1024.0 C503.1,1026.8 505.8,1029.7 508.5,1032.6 C511.2,1035.6 513.9,1038.6 516.6,1041.7 C519.3,1044.8 521.9,1047.9 524.6,1051.1 C527.3,1054.4 530.0,1057.6 532.7,1061.0 C535.4,1064.3 538.1,1067.7 540.8,1071.0 C543.5,1074.4 546.1,1077.9 548.8,1081.3 C551.5,1084.6 554.2,1088.1 556.9,1091.4 C559.6,1094.7 562.3,1097.9 565.0,1101.0 C567.6,1104.2 570.3,1107.2 573.0,1110.0 C575.7,1112.9 578.4,1115.5 581.1,1118.2 C583.8,1120.8 586.5,1123.2 589.2,1125.7 C591.8,1128.2 594.5,1130.6 597.2,1133.1 C599.9,1135.5 602.6,1138.0 605.3,1140.4 C608.0,1142.9 610.7,1145.3 613.4,1147.5 C616.0,1149.8 618.7,1152.0 621.4,1154.0 C624.1,1156.1 626.8,1158.0 629.5,1159.7 C632.2,1161.4 634.9,1162.8 637.6,1164.2 C640.2,1165.6 642.9,1166.7 645.6,1167.8 C648.3,1168.9 651.0,1169.8 653.7,1170.7 C656.4,1171.5 659.1,1172.3 661.8,1173.0 C664.4,1173.7 667.1,1174.3 669.8,1175.0 C672.5,1175.6 675.2,1176.2 677.9,1176.8 C680.6,1177.4 683.3,1178.0 685.9,1178.5 C688.6,1179.1 691.3,1179.7 694.0,1180.2 C696.7,1180.7 699.4,1181.3 702.1,1181.8 C704.8,1182.3 707.5,1182.8 710.1,1183.3 C712.8,1183.8 715.5,1184.3 718.2,1184.7 C720.9,1185.2 723.6,1185.7 726.3,1186.1 C729.0,1186.5 731.7,1186.9 734.3,1187.4 C737.0,1187.8 739.7,1188.2 742.4,1188.5 C745.1,1188.9 747.8,1189.3 750.5,1189.6 C753.2,1190.0 755.9,1190.3 758.5,1190.6 C761.2,1191.0 763.9,1191.3 766.6,1191.6 C769.3,1191.9 772.0,1192.1 774.7,1192.4 C777.4,1192.7 780.0,1192.9 782.7,1193.2 C785.4,1193.4 788.1,1193.6 790.8,1193.8 C793.5,1194.0 796.2,1194.2 798.9,1194.4 C801.6,1194.6 804.2,1194.7 806.9,1194.9 C809.6,1195.0 813.7,1195.2 815.0,1195.2" stroke-width="4.6"/>
<path d="M202.2,1100.3 C210.2,1100.6 232.4,1101.0 250.2,1102.1 C268.0,1103.2 289.3,1104.2 308.8,1106.8 C328.3,1109.3 347.8,1113.5 367.3,1117.4 C386.8,1121.3 406.4,1125.5 425.9,1130.2 C445.4,1134.9 468.7,1141.5 484.4,1145.5 C500.1,1149.5 508.9,1150.6 520.0,1153.9 C531.1,1157.2 539.5,1160.6 550.8,1165.6 C562.1,1170.6 575.5,1176.3 587.8,1184.1 C600.1,1191.9 615.5,1203.6 624.7,1212.4 C633.9,1221.2 636.0,1228.3 643.2,1237.1 C650.4,1245.9 660.1,1256.6 667.9,1265.4 C675.7,1274.2 684.2,1283.9 690.0,1290.0 C695.8,1296.1 698.6,1298.6 702.9,1302.1 C707.2,1305.5 709.4,1307.7 715.9,1310.7 C722.4,1313.7 733.2,1317.9 741.8,1320.2 C750.4,1322.5 759.0,1323.6 767.6,1324.5 C776.2,1325.4 785.5,1325.6 793.5,1325.8 C801.5,1326.0 811.8,1325.5 815.5,1325.5" stroke-width="4.6"/>
<path d="M202.2,1127.9 C214.1,1128.1 250.1,1128.2 273.7,1129.1 C297.3,1130.0 324.4,1131.5 343.9,1133.1 C363.4,1134.6 375.1,1136.0 390.7,1138.4 C406.3,1140.9 422.0,1144.1 437.6,1147.8 C453.2,1151.5 470.7,1156.7 484.4,1160.7 C498.1,1164.7 508.5,1167.1 520.0,1171.8 C531.5,1176.5 541.4,1182.2 553.3,1189.0 C565.2,1195.8 582.7,1207.1 591.5,1212.4 C600.3,1217.7 598.7,1215.5 606.3,1221.0 C613.9,1226.5 626.8,1236.9 637.1,1245.7 C647.4,1254.5 659.1,1266.0 667.9,1274.0 C676.7,1282.0 682.7,1287.3 690.0,1294.0 C697.3,1300.7 705.1,1308.0 711.6,1314.2 C718.1,1320.4 722.3,1325.1 728.8,1331.4 C735.3,1337.7 743.9,1346.8 750.4,1352.1 C756.9,1357.4 763.0,1361.1 767.6,1363.3 C772.2,1365.5 774.4,1363.8 778.0,1365.0 C781.6,1366.2 785.2,1367.8 789.2,1370.2 C793.2,1372.7 797.7,1377.1 802.1,1379.7 C806.5,1382.3 813.3,1384.7 815.5,1385.7" stroke-width="4.6"/>
<path d="M202.2,1220.4 C203.5,1220.4 207.6,1220.4 210.3,1220.4 C213.0,1220.3 215.6,1220.3 218.3,1220.3 C221.0,1220.3 223.7,1220.3 226.4,1220.3 C229.1,1220.3 231.8,1220.3 234.5,1220.2 C237.2,1220.2 239.8,1220.2 242.5,1220.2 C245.2,1220.1 247.9,1220.1 250.6,1220.1 C253.3,1220.1 256.0,1220.0 258.7,1220.0 C261.4,1220.0 264.0,1219.9 266.7,1219.9 C269.4,1219.9 272.1,1219.8 274.8,1219.8 C277.5,1219.8 280.2,1219.7 282.9,1219.7 C285.6,1219.6 288.2,1219.6 290.9,1219.6 C293.6,1219.5 296.3,1219.5 299.0,1219.4 C301.7,1219.4 304.4,1219.3 307.1,1219.3 C309.8,1219.2 312.5,1219.2 315.1,1219.1 C317.8,1219.1 320.5,1219.0 323.2,1219.0 C325.9,1218.9 328.6,1218.9 331.3,1218.8 C334.0,1218.8 336.7,1218.7 339.3,1218.6 C342.0,1218.6 344.7,1218.5 347.4,1218.5 C350.1,1218.4 352.8,1218.4 355.5,1218.3 C358.2,1218.2 360.9,1218.2 363.5,1218.1 C366.2,1218.0 368.9,1218.0 371.6,1217.9 C374.3,1217.8 377.0,1217.8 379.7,1217.7 C382.4,1217.7 385.1,1217.6 387.7,1217.5 C390.4,1217.5 393.1,1217.4 395.8,1217.3 C398.5,1217.2 401.2,1217.2 403.9,1217.1 C406.6,1217.0 409.3,1217.0 411.9,1216.9 C414.6,1216.8 417.3,1216.8 420.0,1216.7 C422.7,1216.6 425.4,1216.6 428.1,1216.5 C430.8,1216.4 433.5,1216.3 436.1,1216.3 C438.8,1216.2 441.5,1216.1 444.2,1216.1 C446.9,1216.0 449.6,1215.9 452.3,1215.9 C455.0,1215.8 457.7,1215.7 460.3,1215.6 C463.0,1215.6 465.7,1215.5 468.4,1215.4 C471.1,1215.4 473.8,1215.3 476.5,1215.2 C479.2,1215.2 481.9,1215.1 484.5,1215.0 C487.2,1214.9 489.9,1214.9 492.6,1214.8 C495.3,1214.7 498.0,1214.7 500.7,1214.6 C503.4,1214.5 506.1,1214.5 508.7,1214.4 C511.4,1214.3 514.1,1214.3 516.8,1214.2 C519.5,1214.2 522.2,1214.1 524.9,1214.0 C527.6,1214.0 530.3,1213.9 533.0,1213.8 C535.6,1213.8 538.3,1213.7 541.0,1213.7 C543.7,1213.6 546.4,1213.5 549.1,1213.5 C551.8,1213.4 554.5,1213.4 557.2,1213.3 C559.8,1213.3 562.5,1213.2 565.2,1213.2 C567.9,1213.1 570.6,1213.0 573.3,1213.0 C576.0,1212.9 578.7,1212.9 581.4,1212.8 C584.0,1212.8 586.7,1212.8 589.4,1212.7 C592.1,1212.7 594.8,1212.6 597.5,1212.6 C600.2,1212.5 602.9,1212.5 605.6,1212.4 C608.2,1212.4 610.9,1212.4 613.6,1212.3 C616.3,1212.3 619.0,1212.3 621.7,1212.2 C624.4,1212.2 627.1,1212.2 629.8,1212.1 C632.4,1212.1 635.1,1212.1 637.8,1212.0 C640.5,1212.0 643.2,1212.0 645.9,1212.0 C648.6,1212.0 651.3,1211.9 654.0,1211.9 C656.6,1211.9 659.3,1211.9 662.0,1211.9 C664.7,1211.8 667.4,1211.8 670.1,1211.8 C672.8,1211.8 675.5,1211.8 678.2,1211.8 C680.8,1211.8 683.5,1211.8 686.2,1211.8 C688.9,1211.8 691.6,1211.8 694.3,1211.8 C697.0,1211.8 699.7,1211.8 702.4,1211.8 C705.0,1211.8 707.7,1211.8 710.4,1211.8 C713.1,1211.8 715.8,1211.9 718.5,1211.9 C721.2,1211.9 723.9,1211.9 726.6,1211.9 C729.3,1212.0 731.9,1212.0 734.6,1212.0 C737.3,1212.0 740.0,1212.1 742.7,1212.1 C745.4,1212.1 748.1,1212.2 750.8,1212.2 C753.5,1212.3 756.1,1212.3 758.8,1212.3 C761.5,1212.4 764.2,1212.4 766.9,1212.5 C769.6,1212.5 772.3,1212.6 775.0,1212.7 C777.7,1212.7 780.3,1212.8 783.0,1212.8 C785.7,1212.9 788.4,1213.0 791.1,1213.0 C793.8,1213.1 796.5,1213.2 799.2,1213.3 C801.9,1213.3 804.5,1213.4 807.2,1213.5 C809.9,1213.6 814.0,1213.7 815.3,1213.8" stroke-width="4.6"/>
<path d="M202.2,1268.4 C218.0,1268.3 265.7,1267.9 297.1,1267.9 C328.5,1267.9 363.4,1267.9 390.7,1268.4 C418.0,1268.9 439.4,1270.0 461.0,1270.7 C482.6,1271.4 499.9,1271.5 520.0,1272.8 C540.1,1274.1 564.1,1276.5 581.6,1278.4 C599.1,1280.4 610.3,1281.5 624.7,1284.5 C639.1,1287.5 656.6,1292.8 667.9,1296.2 C679.2,1299.6 686.7,1302.1 692.5,1304.8 C698.3,1307.5 699.7,1309.1 702.9,1312.4 C706.1,1315.7 707.7,1319.3 711.6,1324.5 C715.5,1329.7 721.8,1337.5 726.2,1343.5 C730.7,1349.5 734.0,1357.4 738.3,1360.7 C742.6,1364.0 747.5,1362.0 752.1,1363.3 C756.7,1364.6 761.9,1365.5 765.9,1368.5 C769.9,1371.5 772.3,1376.4 776.3,1381.4 C780.3,1386.4 785.6,1395.0 790.1,1398.7 C794.6,1402.5 798.8,1403.9 803.0,1403.9 C807.2,1403.9 813.4,1399.6 815.5,1398.7" stroke-width="4.6"/>
<path d="M202.2,1397.9 C218.0,1398.0 265.7,1398.1 297.1,1398.4 C328.5,1398.7 363.4,1399.1 390.7,1399.5 C418.0,1399.9 442.8,1400.5 461.0,1400.7 C479.2,1400.9 481.8,1401.3 500.0,1400.7 C518.2,1400.1 548.7,1399.4 570.2,1397.2 C591.7,1395.0 608.8,1390.9 628.8,1387.8 C648.8,1384.7 675.5,1381.5 690.0,1378.8 C704.5,1376.1 707.4,1373.7 715.9,1371.5 C724.4,1369.3 735.1,1365.0 740.9,1365.9 C746.6,1366.8 746.5,1371.6 750.4,1377.1 C754.3,1382.6 759.6,1392.5 764.2,1398.7 C768.8,1405.0 773.7,1412.2 778.0,1414.6 C782.3,1417.0 785.9,1413.3 790.1,1412.9 C794.3,1412.5 800.0,1411.4 803.0,1412.1 C806.0,1412.8 806.1,1416.0 808.2,1416.8 C810.3,1417.6 814.3,1416.8 815.5,1416.8" stroke-width="4.6"/>
<path d="M368.5,1417.1 C372.2,1416.1 379.2,1414.3 390.7,1411.2 C402.2,1408.1 422.0,1402.9 437.6,1398.4 C453.2,1393.9 474.0,1387.3 484.4,1384.3 C494.8,1381.3 485.7,1383.6 500.0,1380.3 C514.3,1377.0 546.8,1369.4 570.2,1364.4 C593.6,1359.4 620.5,1353.5 640.5,1350.4 C660.5,1347.4 678.9,1347.0 690.0,1346.1 C701.1,1345.2 701.3,1344.8 707.3,1345.2 C713.3,1345.6 719.7,1347.0 726.2,1348.7 C732.7,1350.4 739.9,1353.3 746.1,1355.6 C752.3,1357.9 758.3,1361.2 763.3,1362.5 C768.3,1363.8 771.3,1363.6 776.3,1363.3 C781.3,1363.0 787.0,1361.3 793.5,1360.7 C800.0,1360.1 811.8,1360.0 815.5,1359.9" stroke-width="4.6"/>
<path d="M202,1051.3 L280,1052.7 L340,1053.9 L520,1058.3 L657,1062.9 L815.5,1066.4" stroke-width="8"/>
<path d="M1028.0,139.8 C1029.6,139.6 1034.2,139.4 1037.3,138.7 C1040.4,138.0 1043.5,136.9 1046.6,135.7 C1049.7,134.4 1052.8,132.8 1056.0,131.2 C1059.1,129.6 1062.2,127.7 1065.3,125.9 C1068.4,124.1 1071.5,122.1 1074.6,120.3 C1077.7,118.5 1082.3,116.0 1083.9,115.1" stroke-width="4.6"/>
<path d="M1215.9,115.1 C1218.9,117.3 1226.2,123.3 1233.7,128.3 C1241.2,133.3 1251.8,139.8 1260.9,145.0 C1270.0,150.2 1279.4,155.3 1288.1,159.7 C1296.8,164.1 1304.2,168.3 1313.3,171.2 C1322.4,174.1 1335.7,176.4 1342.6,177.1 C1349.5,177.8 1350.2,176.6 1354.7,175.4 C1359.2,174.2 1364.1,172.5 1369.3,170.2 C1374.5,167.9 1379.8,165.3 1386.1,161.8 C1392.4,158.3 1400.0,153.4 1407.0,149.2 C1414.0,145.0 1421.9,140.7 1428.0,136.7 C1434.1,132.7 1438.6,128.3 1443.8,125.4 C1449.0,122.5 1454.4,119.8 1458.9,119.0 C1463.4,118.2 1465.9,121.2 1470.8,120.6 C1475.7,120.0 1485.3,116.3 1488.2,115.4" stroke-width="4.6"/>
<path d="M1028.0,196.6 C1029.3,196.7 1033.3,196.7 1036.0,197.1 C1038.7,197.4 1041.3,198.0 1044.0,198.8 C1046.7,199.5 1049.4,200.4 1052.0,201.4 C1054.7,202.4 1057.4,203.6 1060.0,204.9 C1062.7,206.1 1065.4,207.5 1068.0,208.9 C1070.7,210.3 1073.4,211.9 1076.1,213.4 C1078.7,214.9 1081.4,216.5 1084.1,218.1 C1086.7,219.6 1089.4,221.2 1092.1,222.8 C1094.7,224.3 1097.4,225.9 1100.1,227.4 C1102.8,228.9 1105.4,230.5 1108.1,231.9 C1110.8,233.4 1113.4,234.9 1116.1,236.3 C1118.8,237.7 1121.4,239.0 1124.1,240.3 C1126.8,241.6 1129.5,242.9 1132.1,244.1 C1134.8,245.3 1137.5,246.4 1140.1,247.5 C1142.8,248.5 1145.5,249.6 1148.1,250.5 C1150.8,251.4 1153.5,252.2 1156.2,253.0 C1158.8,253.7 1161.5,254.4 1164.2,254.9 C1166.8,255.5 1169.5,255.9 1172.2,256.3 C1174.8,256.7 1177.5,256.9 1180.2,257.1 C1182.8,257.2 1185.5,257.3 1188.2,257.3 C1190.9,257.3 1193.5,257.1 1196.2,257.0 C1198.9,256.8 1201.5,256.5 1204.2,256.1 C1206.9,255.8 1209.5,255.3 1212.2,254.8 C1214.9,254.3 1217.6,253.7 1220.2,253.0 C1222.9,252.4 1225.6,251.6 1228.2,250.8 C1230.9,250.0 1233.6,249.1 1236.2,248.2 C1238.9,247.3 1241.6,246.3 1244.3,245.2 C1246.9,244.2 1249.6,243.1 1252.3,241.9 C1254.9,240.7 1257.6,239.5 1260.3,238.3 C1262.9,237.0 1265.6,235.7 1268.3,234.3 C1271.0,233.0 1273.6,231.6 1276.3,230.1 C1279.0,228.7 1281.6,227.2 1284.3,225.7 C1287.0,224.2 1289.6,222.6 1292.3,221.1 C1295.0,219.5 1297.6,217.9 1300.3,216.3 C1303.0,214.8 1305.7,213.2 1308.3,211.6 C1311.0,210.1 1313.7,208.5 1316.3,207.0 C1319.0,205.5 1321.7,204.0 1324.3,202.7 C1327.0,201.3 1329.7,199.9 1332.4,198.7 C1335.0,197.4 1337.7,196.2 1340.4,195.2 C1343.0,194.1 1345.7,193.1 1348.4,192.3 C1351.0,191.4 1353.7,190.7 1356.4,190.1 C1359.1,189.5 1361.7,189.1 1364.4,188.7 C1367.1,188.3 1369.7,188.1 1372.4,187.8 C1375.1,187.6 1377.7,187.4 1380.4,187.3 C1383.1,187.1 1385.8,187.0 1388.4,186.8 C1391.1,186.6 1393.8,186.4 1396.4,186.2 C1399.1,185.9 1401.8,185.6 1404.4,185.2 C1407.1,184.8 1409.8,184.3 1412.4,183.6 C1415.1,183.0 1417.8,182.2 1420.5,181.3 C1423.1,180.4 1425.8,179.4 1428.5,178.4 C1431.1,177.4 1433.8,176.2 1436.5,175.1 C1439.1,174.0 1441.8,172.9 1444.5,171.7 C1447.2,170.5 1449.8,169.3 1452.5,168.1 C1455.2,166.9 1457.8,165.6 1460.5,164.3 C1463.2,163.1 1465.8,161.7 1468.5,160.4 C1471.2,159.0 1473.9,157.7 1476.5,156.2 C1479.2,154.8 1481.9,153.4 1484.5,151.9 C1487.2,150.4 1489.9,148.9 1492.5,147.3 C1495.2,145.8 1497.9,144.2 1500.6,142.5 C1503.2,140.9 1505.9,139.2 1508.6,137.5 C1511.2,135.8 1513.9,134.1 1516.6,132.3 C1519.2,130.5 1521.9,128.7 1524.6,126.8 C1527.3,124.9 1529.9,123.0 1532.6,121.1 C1535.3,119.1 1539.3,116.1 1540.6,115.1" stroke-width="4.6"/>
<path d="M1028.0,403.3 C1030.2,403.2 1035.3,403.7 1041.0,402.7 C1046.7,401.7 1050.7,401.3 1061.9,397.5 C1073.1,393.7 1093.3,386.5 1108.0,379.7 C1122.7,372.9 1138.0,362.9 1149.9,356.6 C1161.8,350.3 1168.0,346.5 1179.2,342.0 C1190.4,337.5 1202.6,333.9 1216.9,329.4 C1231.2,324.8 1251.1,319.8 1265.1,314.7 C1279.1,309.6 1289.9,305.3 1300.7,299.0 C1311.5,292.7 1323.5,282.0 1330.0,277.0 C1336.5,272.0 1333.5,274.1 1340.0,269.0 C1346.5,263.9 1361.6,252.9 1369.3,246.6 C1377.0,240.2 1379.8,237.2 1386.1,230.9 C1392.4,224.6 1400.0,216.4 1407.0,208.9 C1414.0,201.4 1421.7,192.9 1428.0,185.9 C1434.3,178.9 1439.1,173.1 1444.7,167.0 C1450.3,160.9 1457.3,153.4 1461.5,149.2 C1465.7,145.0 1465.7,144.2 1469.9,141.9 C1474.1,139.6 1478.6,136.6 1486.6,135.6 C1494.6,134.6 1507.6,136.0 1518.1,136.0 C1528.6,136.0 1539.0,136.7 1549.5,135.6 C1560.0,134.5 1569.7,132.6 1580.9,129.3 C1592.1,126.0 1606.3,117.6 1616.5,115.7 C1626.7,113.8 1633.5,117.4 1642.1,118.2 C1650.6,119.0 1663.5,120.1 1667.8,120.5" stroke-width="4.6"/>
<path d="M1028.0,485.5 C1029.3,485.6 1033.4,485.9 1036.1,486.1 C1038.8,486.4 1041.5,486.7 1044.2,487.0 C1046.9,487.3 1049.6,487.7 1052.3,488.1 C1055.0,488.5 1057.7,488.9 1060.4,489.3 C1063.1,489.8 1065.7,490.3 1068.4,490.7 C1071.1,491.2 1073.8,491.7 1076.5,492.2 C1079.2,492.8 1081.9,493.3 1084.6,493.8 C1087.3,494.3 1090.0,494.9 1092.7,495.4 C1095.4,495.9 1098.1,496.5 1100.8,497.0 C1103.5,497.5 1106.2,498.0 1108.9,498.5 C1111.6,499.0 1114.3,499.5 1117.0,500.0 C1119.7,500.4 1122.4,500.9 1125.1,501.3 C1127.8,501.7 1130.5,502.1 1133.2,502.4 C1135.8,502.7 1138.5,503.1 1141.2,503.3 C1143.9,503.6 1146.6,503.8 1149.3,504.0 C1152.0,504.2 1154.7,504.3 1157.4,504.4 C1160.1,504.5 1162.8,504.5 1165.5,504.6 C1168.2,504.6 1170.9,504.5 1173.6,504.5 C1176.3,504.4 1179.0,504.3 1181.7,504.2 C1184.4,504.0 1187.1,503.8 1189.8,503.6 C1192.5,503.4 1195.2,503.2 1197.9,502.9 C1200.6,502.6 1203.3,502.3 1205.9,502.0 C1208.6,501.7 1211.3,501.3 1214.0,500.9 C1216.7,500.5 1219.4,500.1 1222.1,499.7 C1224.8,499.2 1227.5,498.7 1230.2,498.3 C1232.9,497.8 1235.6,497.2 1238.3,496.7 C1241.0,496.2 1243.7,495.6 1246.4,495.1 C1249.1,494.5 1251.8,493.9 1254.5,493.3 C1257.2,492.7 1259.9,492.0 1262.6,491.4 C1265.3,490.8 1268.0,490.1 1270.7,489.4 C1273.4,488.8 1276.1,488.1 1278.7,487.4 C1281.4,486.7 1284.1,486.0 1286.8,485.3 C1289.5,484.6 1292.2,483.9 1294.9,483.2 C1297.6,482.5 1300.3,481.8 1303.0,481.1 C1305.7,480.4 1308.4,479.7 1311.1,479.0 C1313.8,478.3 1316.5,477.6 1319.2,476.9 C1321.9,476.2 1324.6,475.5 1327.3,474.8 C1330.0,474.1 1332.7,473.5 1335.4,472.8 C1338.1,472.2 1340.8,471.6 1343.5,470.9 C1346.2,470.3 1348.8,469.7 1351.5,469.1 C1354.2,468.6 1356.9,468.0 1359.6,467.4 C1362.3,466.9 1365.0,466.4 1367.7,465.8 C1370.4,465.3 1373.1,464.8 1375.8,464.3 C1378.5,463.8 1381.2,463.3 1383.9,462.9 C1386.6,462.4 1389.3,462.0 1392.0,461.5 C1394.7,461.1 1397.4,460.7 1400.1,460.3 C1402.8,459.9 1405.5,459.5 1408.2,459.1 C1410.9,458.7 1413.6,458.3 1416.3,458.0 C1418.9,457.6 1421.6,457.3 1424.3,456.9 C1427.0,456.6 1429.7,456.3 1432.4,455.9 C1435.1,455.6 1437.8,455.3 1440.5,455.0 C1443.2,454.8 1445.9,454.5 1448.6,454.2 C1451.3,453.9 1454.0,453.7 1456.7,453.4 C1459.4,453.2 1462.1,452.9 1464.8,452.7 C1467.5,452.5 1470.2,452.2 1472.9,452.0 C1475.6,451.8 1478.3,451.6 1481.0,451.4 C1483.7,451.2 1486.4,451.0 1489.1,450.9 C1491.7,450.7 1494.4,450.5 1497.1,450.3 C1499.8,450.2 1502.5,450.0 1505.2,449.9 C1507.9,449.7 1510.6,449.6 1513.3,449.5 C1516.0,449.3 1518.7,449.2 1521.4,449.1 C1524.1,449.0 1526.8,448.8 1529.5,448.7 C1532.2,448.6 1534.9,448.5 1537.6,448.4 C1540.3,448.3 1543.0,448.2 1545.7,448.1 C1548.4,448.1 1551.1,448.0 1553.8,447.9 C1556.5,447.8 1559.2,447.7 1561.8,447.7 C1564.5,447.6 1567.2,447.5 1569.9,447.5 C1572.6,447.4 1575.3,447.4 1578.0,447.3 C1580.7,447.3 1583.4,447.2 1586.1,447.2 C1588.8,447.1 1591.5,447.1 1594.2,447.0 C1596.9,447.0 1599.6,446.9 1602.3,446.9 C1605.0,446.9 1607.7,446.8 1610.4,446.8 C1613.1,446.8 1615.8,446.7 1618.5,446.7 C1621.2,446.7 1623.9,446.6 1626.6,446.6 C1629.3,446.6 1631.9,446.5 1634.6,446.5 C1637.3,446.5 1640.0,446.4 1642.7,446.4 C1645.4,446.4 1648.1,446.4 1650.8,446.3 C1653.5,446.3 1656.2,446.3 1658.9,446.2 C1661.6,446.2 1665.7,446.1 1667.0,446.1" stroke-width="4.6"/>
<path d="M1024.2,695.1 C1025.5,695.0 1029.6,694.6 1032.2,694.2 C1034.9,693.8 1037.6,693.2 1040.3,692.4 C1042.9,691.7 1045.6,690.9 1048.3,689.9 C1051.0,689.0 1053.7,687.9 1056.3,686.7 C1059.0,685.5 1061.7,684.3 1064.4,682.9 C1067.1,681.5 1069.7,680.1 1072.4,678.6 C1075.1,677.0 1077.8,675.4 1080.4,673.7 C1083.1,672.1 1085.8,670.3 1088.5,668.5 C1091.2,666.7 1093.8,664.8 1096.5,662.9 C1099.2,660.9 1101.9,658.9 1104.5,656.9 C1107.2,654.9 1109.9,652.8 1112.6,650.7 C1115.3,648.6 1117.9,646.4 1120.6,644.2 C1123.3,642.1 1126.0,639.8 1128.7,637.6 C1131.3,635.4 1134.0,633.1 1136.7,630.9 C1139.4,628.6 1142.0,626.3 1144.7,624.1 C1147.4,621.8 1150.1,619.5 1152.8,617.2 C1155.4,615.0 1158.1,612.7 1160.8,610.4 C1163.5,608.2 1166.2,605.9 1168.8,603.7 C1171.5,601.5 1174.2,599.2 1176.9,597.0 C1179.5,594.8 1182.2,592.7 1184.9,590.5 C1187.6,588.4 1190.3,586.2 1192.9,584.1 C1195.6,582.1 1198.3,580.0 1201.0,578.0 C1203.6,575.9 1206.3,573.9 1209.0,572.0 C1211.7,570.0 1214.4,568.0 1217.0,566.1 C1219.7,564.2 1222.4,562.3 1225.1,560.5 C1227.8,558.6 1230.4,556.8 1233.1,555.0 C1235.8,553.2 1238.5,551.4 1241.1,549.7 C1243.8,548.0 1246.5,546.3 1249.2,544.6 C1251.9,542.9 1254.5,541.3 1257.2,539.7 C1259.9,538.1 1262.6,536.5 1265.2,535.0 C1267.9,533.4 1270.6,531.9 1273.3,530.5 C1276.0,529.0 1278.6,527.6 1281.3,526.2 C1284.0,524.8 1286.7,523.4 1289.4,522.1 C1292.0,520.8 1294.7,519.5 1297.4,518.3 C1300.1,517.1 1302.7,515.9 1305.4,514.7 C1308.1,513.6 1310.8,512.5 1313.5,511.4 C1316.1,510.3 1318.8,509.3 1321.5,508.3 C1324.2,507.3 1326.9,506.3 1329.5,505.4 C1332.2,504.5 1334.9,503.6 1337.6,502.8 C1340.2,501.9 1342.9,501.1 1345.6,500.3 C1348.3,499.5 1351.0,498.7 1353.6,498.0 C1356.3,497.2 1359.0,496.5 1361.7,495.8 C1364.3,495.1 1367.0,494.4 1369.7,493.7 C1372.4,493.1 1375.1,492.4 1377.7,491.7 C1380.4,491.1 1383.1,490.5 1385.8,489.8 C1388.5,489.2 1391.1,488.6 1393.8,487.9 C1396.5,487.3 1399.2,486.7 1401.8,486.1 C1404.5,485.5 1407.2,484.8 1409.9,484.2 C1412.6,483.6 1415.2,483.0 1417.9,482.4 C1420.6,481.8 1423.3,481.2 1426.0,480.7 C1428.6,480.1 1431.3,479.5 1434.0,478.9 C1436.7,478.4 1439.3,477.8 1442.0,477.3 C1444.7,476.7 1447.4,476.2 1450.1,475.6 C1452.7,475.1 1455.4,474.6 1458.1,474.1 C1460.8,473.6 1463.4,473.1 1466.1,472.6 C1468.8,472.1 1471.5,471.6 1474.2,471.2 C1476.8,470.7 1479.5,470.3 1482.2,469.8 C1484.9,469.4 1487.6,469.0 1490.2,468.6 C1492.9,468.2 1495.6,467.8 1498.3,467.4 C1500.9,467.0 1503.6,466.6 1506.3,466.3 C1509.0,465.9 1511.7,465.6 1514.3,465.3 C1517.0,464.9 1519.7,464.6 1522.4,464.3 C1525.0,464.0 1527.7,463.7 1530.4,463.4 C1533.1,463.2 1535.8,462.9 1538.4,462.6 C1541.1,462.4 1543.8,462.1 1546.5,461.9 C1549.2,461.6 1551.8,461.4 1554.5,461.2 C1557.2,461.0 1559.9,460.8 1562.5,460.6 C1565.2,460.4 1567.9,460.2 1570.6,460.0 C1573.3,459.9 1575.9,459.7 1578.6,459.5 C1581.3,459.4 1584.0,459.2 1586.7,459.1 C1589.3,458.9 1592.0,458.8 1594.7,458.7 C1597.4,458.6 1600.0,458.5 1602.7,458.4 C1605.4,458.2 1608.1,458.1 1610.8,458.1 C1613.4,458.0 1616.1,457.9 1618.8,457.8 C1621.5,457.7 1624.1,457.7 1626.8,457.6 C1629.5,457.5 1632.2,457.5 1634.9,457.4 C1637.5,457.4 1640.2,457.3 1642.9,457.3 C1645.6,457.2 1648.3,457.2 1650.9,457.2 C1653.6,457.2 1656.3,457.1 1659.0,457.1 C1661.6,457.1 1665.7,457.1 1667.0,457.1" stroke-width="4.6"/>
<path d="M1024.2,805.8 C1025.5,806.0 1029.6,806.3 1032.2,806.8 C1034.9,807.2 1037.6,807.7 1040.3,808.4 C1043.0,809.1 1045.7,809.9 1048.3,810.7 C1051.0,811.6 1053.7,812.6 1056.4,813.7 C1059.1,814.8 1061.7,816.0 1064.4,817.3 C1067.1,818.6 1069.8,820.0 1072.5,821.4 C1075.2,822.9 1077.8,824.5 1080.5,826.1 C1083.2,827.7 1085.9,829.5 1088.6,831.3 C1091.2,833.0 1093.9,834.9 1096.6,836.9 C1099.3,838.8 1102.0,840.8 1104.7,842.9 C1107.3,844.9 1110.0,847.1 1112.7,849.3 C1115.4,851.4 1118.1,853.7 1120.7,856.0 C1123.4,858.2 1126.1,860.6 1128.8,863.0 C1131.5,865.3 1134.1,867.8 1136.8,870.2 C1139.5,872.7 1142.2,875.2 1144.9,877.7 C1147.6,880.2 1150.2,882.8 1152.9,885.3 C1155.6,887.9 1158.3,890.5 1161.0,893.1 C1163.6,895.7 1166.3,898.4 1169.0,901.0 C1171.7,903.6 1174.4,906.3 1177.1,908.9 C1179.7,911.6 1182.4,914.2 1185.1,916.9 C1187.8,919.5 1190.5,922.2 1193.1,924.8 C1195.8,927.5 1198.5,930.1 1201.2,932.7 C1203.9,935.4 1206.6,938.0 1209.2,940.6 C1211.9,943.3 1214.6,945.9 1217.3,948.5 C1220.0,951.1 1222.6,953.8 1225.3,956.4 C1228.0,959.0 1230.7,961.7 1233.4,964.3 C1236.1,967.0 1238.7,969.6 1241.4,972.3 C1244.1,974.9 1246.8,977.6 1249.5,980.2 C1252.1,982.9 1254.8,985.6 1257.5,988.2 C1260.2,990.9 1262.9,993.6 1265.5,996.3 C1268.2,999.0 1270.9,1001.7 1273.6,1004.5 C1276.3,1007.2 1279.0,1009.9 1281.6,1012.6 C1284.3,1015.3 1287.0,1018.0 1289.7,1020.6 C1292.4,1023.3 1295.0,1025.9 1297.7,1028.4 C1300.4,1030.9 1303.1,1033.4 1305.8,1035.7 C1308.5,1038.1 1311.1,1040.3 1313.8,1042.5 C1316.5,1044.6 1319.2,1046.7 1321.9,1048.7 C1324.5,1050.8 1327.2,1052.8 1329.9,1054.8 C1332.6,1056.8 1335.3,1058.8 1338.0,1060.8 C1340.6,1062.9 1343.3,1065.0 1346.0,1067.1 C1348.7,1069.3 1351.4,1071.5 1354.0,1073.7 C1356.7,1075.9 1359.4,1078.1 1362.1,1080.4 C1364.8,1082.6 1367.5,1084.9 1370.1,1087.1 C1372.8,1089.3 1375.5,1091.6 1378.2,1093.7 C1380.9,1095.9 1383.5,1098.1 1386.2,1100.2 C1388.9,1102.2 1391.6,1104.3 1394.3,1106.2 C1397.0,1108.2 1399.6,1110.1 1402.3,1111.9 C1405.0,1113.8 1407.7,1115.6 1410.4,1117.4 C1413.0,1119.2 1415.7,1120.9 1418.4,1122.6 C1421.1,1124.4 1423.8,1126.1 1426.4,1127.7 C1429.1,1129.4 1431.8,1131.1 1434.5,1132.7 C1437.2,1134.4 1439.9,1136.0 1442.5,1137.6 C1445.2,1139.3 1447.9,1140.8 1450.6,1142.4 C1453.3,1144.0 1455.9,1145.6 1458.6,1147.1 C1461.3,1148.7 1464.0,1150.2 1466.7,1151.7 C1469.4,1153.2 1472.0,1154.7 1474.7,1156.2 C1477.4,1157.7 1480.1,1159.1 1482.8,1160.6 C1485.4,1162.0 1488.1,1163.4 1490.8,1164.8 C1493.5,1166.2 1496.2,1167.6 1498.9,1169.0 C1501.5,1170.3 1504.2,1171.7 1506.9,1173.0 C1509.6,1174.3 1512.3,1175.6 1514.9,1176.9 C1517.6,1178.2 1520.3,1179.5 1523.0,1180.7 C1525.7,1182.0 1528.4,1183.2 1531.0,1184.4 C1533.7,1185.6 1536.4,1186.8 1539.1,1188.0 C1541.8,1189.1 1544.4,1190.3 1547.1,1191.4 C1549.8,1192.5 1552.5,1193.6 1555.2,1194.6 C1557.9,1195.7 1560.5,1196.7 1563.2,1197.8 C1565.9,1198.8 1568.6,1199.7 1571.3,1200.7 C1573.9,1201.6 1576.6,1202.6 1579.3,1203.4 C1582.0,1204.3 1584.7,1205.2 1587.3,1206.0 C1590.0,1206.8 1592.7,1207.6 1595.4,1208.3 C1598.1,1209.0 1600.8,1209.7 1603.4,1210.4 C1606.1,1211.1 1608.8,1211.7 1611.5,1212.3 C1614.2,1212.8 1616.8,1213.4 1619.5,1213.9 C1622.2,1214.3 1624.9,1214.8 1627.6,1215.2 C1630.3,1215.6 1632.9,1215.9 1635.6,1216.3 C1638.3,1216.6 1641.0,1216.8 1643.7,1217.0 C1646.3,1217.2 1649.0,1217.4 1651.7,1217.5 C1654.4,1217.6 1657.1,1217.6 1659.8,1217.6 C1662.4,1217.6 1666.5,1217.4 1667.8,1217.4" stroke-width="4.6"/>
<path d="M1028.0,1008.8 C1033.7,1009.1 1049.3,1008.9 1061.9,1010.4 C1074.5,1011.9 1089.8,1014.6 1103.8,1017.8 C1117.8,1020.9 1130.0,1024.1 1145.7,1029.3 C1161.4,1034.5 1184.1,1043.3 1198.1,1049.2 C1212.1,1055.1 1217.3,1058.4 1229.5,1064.9 C1241.7,1071.4 1258.1,1079.0 1271.4,1088.0 C1284.7,1097.0 1298.6,1110.0 1309.1,1119.0 C1319.6,1128.0 1327.2,1135.6 1334.2,1141.9 C1341.2,1148.2 1346.5,1152.8 1351.0,1156.6 C1355.5,1160.4 1354.8,1158.6 1361.0,1164.5 C1367.2,1170.4 1377.0,1182.4 1388.2,1192.2 C1399.4,1202.0 1415.1,1215.2 1428.0,1223.6 C1440.9,1232.0 1452.4,1237.6 1465.7,1242.5 C1479.0,1247.4 1493.6,1250.8 1507.6,1252.9 C1521.6,1255.0 1535.5,1254.7 1549.5,1255.0 C1563.5,1255.3 1577.4,1255.1 1591.4,1254.6 C1605.4,1254.1 1620.6,1252.5 1633.3,1251.9 C1646.0,1251.3 1662.0,1251.0 1667.8,1250.8" stroke-width="4.6"/>
<path d="M1028.0,1116.3 C1033.7,1116.5 1049.3,1116.2 1061.9,1117.2 C1074.5,1118.2 1088.1,1120.0 1103.8,1122.0 C1119.5,1124.0 1140.5,1126.3 1156.2,1129.3 C1171.9,1132.3 1184.1,1135.8 1198.1,1139.8 C1212.1,1143.8 1227.8,1149.2 1240.0,1153.4 C1252.2,1157.6 1259.2,1159.7 1271.4,1164.9 C1283.6,1170.1 1301.9,1179.4 1313.3,1184.8 C1324.7,1190.2 1328.6,1190.9 1340.0,1197.4 C1351.4,1203.9 1367.9,1214.0 1381.9,1223.6 C1395.9,1233.2 1411.6,1244.5 1423.8,1255.0 C1436.0,1265.5 1444.7,1275.2 1455.2,1286.4 C1465.7,1297.6 1478.6,1312.3 1486.6,1322.1 C1494.6,1331.9 1497.1,1336.4 1503.4,1345.1 C1509.7,1353.8 1518.5,1367.4 1524.4,1374.4 C1530.3,1381.4 1534.8,1384.4 1539.0,1387.0 C1543.2,1389.6 1540.8,1388.3 1549.5,1390.1 C1558.2,1391.8 1577.4,1395.4 1591.4,1397.5 C1605.4,1399.6 1620.6,1401.7 1633.3,1402.7 C1646.0,1403.7 1662.0,1403.2 1667.8,1403.3" stroke-width="4.6"/>
<path d="M1028.0,1151.3 C1029.3,1151.3 1033.4,1151.3 1036.1,1151.4 C1038.8,1151.4 1041.5,1151.4 1044.2,1151.5 C1046.9,1151.5 1049.6,1151.5 1052.3,1151.6 C1055.0,1151.6 1057.7,1151.7 1060.4,1151.7 C1063.1,1151.7 1065.8,1151.8 1068.5,1151.8 C1071.2,1151.9 1073.9,1151.9 1076.6,1152.0 C1079.3,1152.0 1082.0,1152.0 1084.7,1152.1 C1087.4,1152.1 1090.1,1152.2 1092.8,1152.2 C1095.5,1152.3 1098.2,1152.3 1100.9,1152.4 C1103.6,1152.4 1106.3,1152.5 1109.0,1152.6 C1111.7,1152.6 1114.4,1152.7 1117.1,1152.7 C1119.8,1152.8 1122.5,1152.8 1125.2,1152.9 C1127.9,1153.0 1130.6,1153.0 1133.3,1153.1 C1136.0,1153.2 1138.7,1153.2 1141.4,1153.3 C1144.1,1153.3 1146.8,1153.4 1149.5,1153.5 C1152.2,1153.5 1154.9,1153.6 1157.6,1153.7 C1160.3,1153.7 1163.0,1153.8 1165.7,1153.9 C1168.4,1154.0 1171.1,1154.0 1173.8,1154.1 C1176.5,1154.2 1179.2,1154.2 1181.9,1154.3 C1184.6,1154.4 1187.3,1154.5 1190.0,1154.5 C1192.7,1154.6 1195.4,1154.7 1198.1,1154.8 C1200.8,1154.8 1203.5,1154.9 1206.2,1155.0 C1208.9,1155.1 1211.6,1155.1 1214.3,1155.2 C1217.0,1155.3 1219.7,1155.4 1222.4,1155.5 C1225.1,1155.5 1227.8,1155.6 1230.5,1155.7 C1233.2,1155.8 1235.9,1155.9 1238.6,1155.9 C1241.3,1156.0 1244.0,1156.1 1246.7,1156.2 C1249.4,1156.3 1252.1,1156.3 1254.8,1156.4 C1257.5,1156.5 1260.2,1156.6 1262.9,1156.7 C1265.6,1156.7 1268.3,1156.8 1271.0,1156.9 C1273.7,1157.0 1276.4,1157.1 1279.1,1157.2 C1281.8,1157.2 1284.5,1157.3 1287.2,1157.4 C1289.9,1157.5 1292.6,1157.6 1295.3,1157.7 C1298.0,1157.8 1300.7,1157.8 1303.4,1157.9 C1306.1,1158.0 1308.8,1158.1 1311.5,1158.2 C1314.2,1158.3 1316.9,1158.3 1319.6,1158.4 C1322.3,1158.5 1325.0,1158.6 1327.7,1158.7 C1330.4,1158.8 1333.1,1158.8 1335.8,1158.9 C1338.5,1159.0 1341.2,1159.1 1343.9,1159.2 C1346.6,1159.3 1349.2,1159.3 1351.9,1159.4 C1354.6,1159.5 1357.3,1159.6 1360.0,1159.7 C1362.7,1159.8 1365.4,1159.8 1368.1,1159.9 C1370.8,1160.0 1373.5,1160.1 1376.2,1160.2 C1378.9,1160.2 1381.6,1160.3 1384.3,1160.4 C1387.0,1160.5 1389.7,1160.6 1392.4,1160.6 C1395.1,1160.7 1397.8,1160.8 1400.5,1160.9 C1403.2,1160.9 1405.9,1161.0 1408.6,1161.1 C1411.3,1161.2 1414.0,1161.3 1416.7,1161.3 C1419.4,1161.4 1422.1,1161.5 1424.8,1161.5 C1427.5,1161.6 1430.2,1161.7 1432.9,1161.8 C1435.6,1161.8 1438.3,1161.9 1441.0,1162.0 C1443.7,1162.1 1446.4,1162.1 1449.1,1162.2 C1451.8,1162.3 1454.5,1162.3 1457.2,1162.4 C1459.9,1162.5 1462.6,1162.5 1465.3,1162.6 C1468.0,1162.7 1470.7,1162.7 1473.4,1162.8 C1476.1,1162.8 1478.8,1162.9 1481.5,1163.0 C1484.2,1163.0 1486.9,1163.1 1489.6,1163.2 C1492.3,1163.2 1495.0,1163.3 1497.7,1163.3 C1500.4,1163.4 1503.1,1163.4 1505.8,1163.5 C1508.5,1163.6 1511.2,1163.6 1513.9,1163.7 C1516.6,1163.7 1519.3,1163.8 1522.0,1163.8 C1524.7,1163.9 1527.4,1163.9 1530.1,1164.0 C1532.8,1164.0 1535.5,1164.0 1538.2,1164.1 C1540.9,1164.1 1543.6,1164.2 1546.3,1164.2 C1549.0,1164.3 1551.7,1164.3 1554.4,1164.3 C1557.1,1164.4 1559.8,1164.4 1562.5,1164.5 C1565.2,1164.5 1567.9,1164.5 1570.6,1164.6 C1573.3,1164.6 1576.0,1164.6 1578.7,1164.6 C1581.4,1164.7 1584.1,1164.7 1586.8,1164.7 C1589.5,1164.8 1592.2,1164.8 1594.9,1164.8 C1597.6,1164.8 1600.3,1164.8 1603.0,1164.9 C1605.7,1164.9 1608.4,1164.9 1611.1,1164.9 C1613.8,1164.9 1616.5,1164.9 1619.2,1165.0 C1621.9,1165.0 1624.6,1165.0 1627.3,1165.0 C1630.0,1165.0 1632.7,1165.0 1635.4,1165.0 C1638.1,1165.0 1640.8,1165.0 1643.5,1165.0 C1646.2,1165.0 1648.9,1165.0 1651.6,1165.0 C1654.3,1165.0 1657.0,1165.0 1659.7,1165.0 C1662.4,1165.0 1666.5,1165.0 1667.8,1165.0" stroke-width="4.6"/>
<path d="M1028.0,1312.3 C1029.3,1312.1 1033.4,1311.8 1036.1,1311.6 C1038.8,1311.4 1041.5,1311.2 1044.2,1311.0 C1046.9,1310.8 1049.6,1310.6 1052.3,1310.4 C1055.0,1310.2 1057.7,1310.0 1060.4,1309.8 C1063.1,1309.6 1065.8,1309.5 1068.5,1309.3 C1071.2,1309.1 1073.9,1309.0 1076.6,1308.8 C1079.3,1308.6 1082.0,1308.5 1084.7,1308.3 C1087.4,1308.2 1090.1,1308.0 1092.8,1307.9 C1095.5,1307.7 1098.2,1307.6 1100.9,1307.5 C1103.6,1307.3 1106.3,1307.2 1109.0,1307.1 C1111.7,1307.0 1114.4,1306.8 1117.1,1306.7 C1119.8,1306.6 1122.5,1306.5 1125.2,1306.4 C1127.9,1306.3 1130.6,1306.2 1133.3,1306.1 C1136.0,1305.9 1138.7,1305.8 1141.4,1305.7 C1144.1,1305.6 1146.8,1305.6 1149.5,1305.5 C1152.2,1305.4 1154.9,1305.3 1157.6,1305.2 C1160.3,1305.1 1163.0,1305.0 1165.7,1304.9 C1168.4,1304.9 1171.1,1304.8 1173.8,1304.7 C1176.5,1304.6 1179.2,1304.5 1181.9,1304.5 C1184.6,1304.4 1187.3,1304.3 1190.0,1304.3 C1192.7,1304.2 1195.4,1304.1 1198.1,1304.1 C1200.8,1304.0 1203.5,1303.9 1206.2,1303.9 C1208.9,1303.8 1211.6,1303.7 1214.3,1303.7 C1217.0,1303.6 1219.7,1303.5 1222.4,1303.5 C1225.1,1303.4 1227.8,1303.4 1230.5,1303.3 C1233.2,1303.3 1235.9,1303.2 1238.6,1303.1 C1241.3,1303.1 1244.0,1303.0 1246.7,1303.0 C1249.4,1302.9 1252.1,1302.9 1254.8,1302.8 C1257.5,1302.7 1260.2,1302.7 1262.9,1302.6 C1265.6,1302.6 1268.3,1302.5 1271.0,1302.5 C1273.7,1302.4 1276.4,1302.3 1279.1,1302.3 C1281.8,1302.2 1284.5,1302.2 1287.2,1302.1 C1289.9,1302.1 1292.6,1302.0 1295.3,1302.0 C1298.0,1301.9 1300.7,1301.9 1303.4,1301.9 C1306.1,1301.8 1308.8,1301.8 1311.5,1301.8 C1314.2,1301.8 1316.9,1301.8 1319.6,1301.8 C1322.3,1301.8 1325.0,1301.8 1327.7,1301.8 C1330.4,1301.8 1333.1,1301.8 1335.8,1301.9 C1338.5,1301.9 1341.2,1302.0 1343.9,1302.1 C1346.6,1302.1 1349.2,1302.2 1351.9,1302.3 C1354.6,1302.5 1357.3,1302.6 1360.0,1302.7 C1362.7,1302.9 1365.4,1303.0 1368.1,1303.2 C1370.8,1303.4 1373.5,1303.6 1376.2,1303.8 C1378.9,1304.1 1381.6,1304.3 1384.3,1304.6 C1387.0,1304.9 1389.7,1305.2 1392.4,1305.5 C1395.1,1305.8 1397.8,1306.2 1400.5,1306.5 C1403.2,1306.9 1405.9,1307.3 1408.6,1307.8 C1411.3,1308.2 1414.0,1308.7 1416.7,1309.2 C1419.4,1309.8 1422.1,1310.3 1424.8,1310.9 C1427.5,1311.5 1430.2,1312.1 1432.9,1312.8 C1435.6,1313.4 1438.3,1314.1 1441.0,1314.9 C1443.7,1315.6 1446.4,1316.4 1449.1,1317.1 C1451.8,1317.9 1454.5,1318.7 1457.2,1319.6 C1459.9,1320.4 1462.6,1321.2 1465.3,1322.1 C1468.0,1322.9 1470.7,1323.8 1473.4,1324.7 C1476.1,1325.6 1478.8,1326.5 1481.5,1327.4 C1484.2,1328.3 1486.9,1329.2 1489.6,1330.2 C1492.3,1331.1 1495.0,1332.0 1497.7,1332.9 C1500.4,1333.8 1503.1,1334.7 1505.8,1335.6 C1508.5,1336.5 1511.2,1337.5 1513.9,1338.3 C1516.6,1339.2 1519.3,1340.1 1522.0,1341.0 C1524.7,1341.8 1527.4,1342.7 1530.1,1343.5 C1532.8,1344.3 1535.5,1345.1 1538.2,1345.9 C1540.9,1346.7 1543.6,1347.5 1546.3,1348.2 C1549.0,1348.9 1551.7,1349.6 1554.4,1350.3 C1557.1,1350.9 1559.8,1351.6 1562.5,1352.2 C1565.2,1352.8 1567.9,1353.4 1570.6,1353.9 C1573.3,1354.5 1576.0,1355.0 1578.7,1355.5 C1581.4,1355.9 1584.1,1356.4 1586.8,1356.8 C1589.5,1357.3 1592.2,1357.7 1594.9,1358.0 C1597.6,1358.4 1600.3,1358.7 1603.0,1359.1 C1605.7,1359.4 1608.4,1359.7 1611.1,1359.9 C1613.8,1360.2 1616.5,1360.4 1619.2,1360.6 C1621.9,1360.8 1624.6,1361.0 1627.3,1361.2 C1630.0,1361.3 1632.7,1361.5 1635.4,1361.6 C1638.1,1361.7 1640.8,1361.7 1643.5,1361.8 C1646.2,1361.8 1648.9,1361.9 1651.6,1361.9 C1654.3,1361.9 1657.0,1361.9 1659.7,1361.8 C1662.4,1361.8 1666.5,1361.6 1667.8,1361.6" stroke-width="4.6"/>
<path d="M1028.0,1312.0 C1037.1,1312.5 1059.7,1313.7 1082.8,1314.7 C1105.9,1315.7 1138.7,1316.9 1166.6,1317.9 C1194.5,1319.0 1226.0,1319.7 1250.4,1321.0 C1274.9,1322.3 1298.4,1324.8 1313.3,1325.8 C1328.2,1326.8 1325.1,1324.8 1340.0,1327.3 C1354.9,1329.8 1383.6,1335.8 1402.8,1340.9 C1422.0,1346.0 1438.4,1352.1 1455.2,1357.7 C1472.0,1363.3 1489.8,1368.5 1503.4,1374.4 C1517.0,1380.3 1528.5,1386.3 1536.9,1393.3 C1545.3,1400.3 1550.9,1412.5 1553.7,1416.3" stroke-width="4.6"/>
<path d="M1028.0,1375.5 C1040.6,1375.6 1077.2,1375.8 1103.8,1376.1 C1130.4,1376.4 1159.7,1377.0 1187.6,1377.6 C1215.5,1378.2 1246.0,1379.2 1271.4,1379.7 C1296.8,1380.2 1314.6,1379.8 1340.0,1380.5 C1365.4,1381.2 1397.3,1382.5 1423.8,1383.9 C1450.3,1385.3 1482.4,1387.2 1499.2,1389.1 C1516.0,1391.0 1517.4,1393.0 1524.4,1395.4 C1531.4,1397.9 1535.5,1400.3 1541.1,1403.8 C1546.7,1407.3 1555.1,1414.2 1557.9,1416.3" stroke-width="4.6"/>
<path d="M1374.6,1417.4 C1380.3,1416.9 1395.3,1414.2 1409.1,1414.2 C1422.9,1414.2 1449.3,1416.9 1457.3,1417.4" stroke-width="4.6"/>
</g>
<g fill="none" stroke="#000" stroke-width="4.2" stroke-linecap="round">
<line x1="197.6" y1="537.3" x2="378.5" y2="537.3" stroke-dasharray="12.5 23.1"/>
<line x1="197.6" y1="793.4" x2="378.5" y2="793.4" stroke-dasharray="12.5 23.1"/>
<line x1="312.4" y1="587.65" x2="312.4" y2="748" stroke-dasharray="13.3 22.3" stroke-width="4.5"/>
</g>
<g fill="#000">
<path d="M312.4,540.5 L305.4,587.6 L319.4,587.6 Z"/>
<path d="M312.4,797 L305.4,751.5 L319.4,751.5 Z"/>
</g>
<g fill="none" stroke="#000" stroke-width="6" stroke-linecap="round">
<line x1="1025.3" y1="694" x2="1146" y2="694" stroke-dasharray="10.8 25.05"/>
<line x1="1024.8" y1="806" x2="1146" y2="806" stroke-dasharray="10.8 25.05"/>
<line x1="1111.5" y1="740" x2="1111.5" y2="753.4" stroke-width="4.2"/>
</g>
<g fill="#000">
<path d="M1111.5,695.5 L1104.6,740.4 L1118.4,740.4 Z"/>
<path d="M1111.5,811.5 L1104.6,764.5 L1118.4,764.5 Z"/>
</g>
</svg>
</body></html>
